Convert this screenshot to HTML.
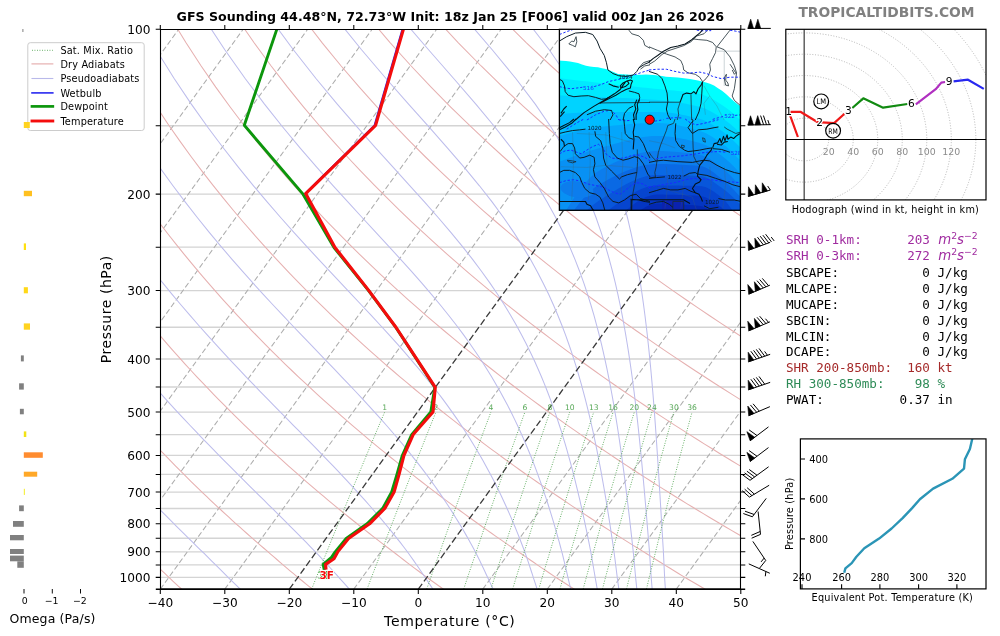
<!DOCTYPE html>
<html lang="en"><head><meta charset="utf-8"><title>GFS Sounding 44.48N 72.73W</title>
<style>html,body{margin:0;padding:0;background:#fff}svg{display:block;will-change:transform}text{white-space:pre}</style></head>
<body><svg width="1000" height="636" viewBox="0 0 1000 636">
<rect width="1000" height="636" fill="#fff"/>
<defs><clipPath id="cm"><rect x="160.3" y="29.3" width="580.2" height="559.85"/></clipPath></defs>
<g clip-path="url(#cm)" fill="none">
<path d="M160.3 29.3 H740.5M160.3 125.73 H740.5M160.3 194.14 H740.5M160.3 247.21 H740.5M160.3 290.57 H740.5M160.3 327.23 H740.5M160.3 358.99 H740.5M160.3 387 H740.5M160.3 412.06 H740.5M160.3 434.72 H740.5M160.3 455.42 H740.5M160.3 474.45 H740.5M160.3 492.08 H740.5M160.3 508.48 H740.5M160.3 523.83 H740.5M160.3 538.25 H740.5M160.3 551.84 H740.5M160.3 564.93 H740.5M160.3 577.35 H740.5" stroke="#d4d4d4" stroke-width="1.3"/>
<path d="M-549.2 589.15 L-143.87 29.3M-484.7 589.15 L-79.37 29.3M-420.2 589.15 L-14.87 29.3M-355.7 589.15 L49.63 29.3M-291.2 589.15 L114.13 29.3M-226.7 589.15 L178.63 29.3M-162.2 589.15 L243.13 29.3M-97.7 589.15 L307.63 29.3M-33.2 589.15 L372.13 29.3M31.3 589.15 L436.63 29.3M95.8 589.15 L501.13 29.3M160.3 589.15 L565.63 29.3M224.8 589.15 L630.13 29.3M353.8 589.15 L759.13 29.3M482.8 589.15 L888.13 29.3M547.3 589.15 L952.63 29.3M611.8 589.15 L1017.13 29.3M676.3 589.15 L1081.63 29.3M740.8 589.15 L1146.13 29.3" stroke="#adadad" stroke-width="1.05" stroke-dasharray="5.4 2.7"/>
<path d="M-78.36 591.21 L-80.29 588.76 L-82.23 586.29 L-84.18 583.8 L-86.14 581.27 L-88.1 578.72 L-90.06 576.12 L-92.01 573.47 L-93.98 570.78 L-95.95 568.07 L-97.93 565.33 L-99.92 562.55 L-101.92 559.75 L-103.93 556.91 L-105.96 554.04 L-108 551.14 L-110.08 548.25 L-112.17 545.33 L-114.27 542.36 L-116.38 539.36 L-118.5 536.32 L-120.64 533.25 L-122.78 530.13 L-124.94 526.97 L-127.11 523.77 L-129.3 520.52 L-131.49 517.23 L-133.7 513.89 L-135.92 510.51 L-138.15 507.07 L-140.39 503.59 L-142.65 500.05 L-144.93 496.46 L-147.21 492.82 L-149.51 489.12 L-151.82 485.36 L-154.15 481.54 L-156.49 477.66 L-158.85 473.71 L-161.21 469.7 L-163.6 465.62 L-166 461.46 L-168.41 457.23 L-170.84 452.93 L-173.29 448.55 L-175.75 444.08 L-178.23 439.53 L-180.72 434.89 L-183.23 430.16 L-185.76 425.33 L-188.3 420.41 L-190.86 415.37 L-193.43 410.23 L-196.03 404.98 L-198.64 399.6 L-201.26 394.11 L-203.91 388.48 L-206.57 382.72 L-209.25 376.81 L-211.95 370.75 L-214.66 364.53 L-217.39 358.15 L-220.14 351.59 L-222.9 344.85 L-225.69 337.91 L-228.48 330.76 L-231.3 323.38 L-234.12 315.78 L-236.97 307.92 L-239.82 299.79 L-242.69 291.37 L-245.57 282.65 L-248.45 273.59 L-251.35 264.17 L-254.24 254.37 L-257.14 244.15 L-260.03 233.46 L-262.92 222.27 L-265.79 210.53 L-268.64 198.18 L-271.45 185.16 L-274.23 171.38 L-276.94 156.75 L-279.58 141.16 L-282.12 124.48 L-284.53 106.54 L-286.77 87.13 L-288.79 66 L-290.5 42.8 L-291.8 17.1M52.8 591.21 L50.49 588.76 L48.16 586.29 L45.82 583.8 L43.47 581.27 L41.11 578.72 L38.75 576.12 L36.4 573.47 L34.03 570.78 L31.65 568.07 L29.26 565.33 L26.86 562.55 L24.44 559.75 L22 556.91 L19.56 554.04 L17.09 551.14 L14.58 548.25 L12.05 545.33 L9.51 542.36 L6.95 539.36 L4.38 536.32 L1.8 533.25 L-0.81 530.13 L-3.42 526.97 L-6.06 523.77 L-8.71 520.52 L-11.38 517.23 L-14.07 513.89 L-16.77 510.51 L-19.49 507.07 L-22.23 503.59 L-24.99 500.05 L-27.76 496.46 L-30.56 492.82 L-33.37 489.12 L-36.21 485.36 L-39.06 481.54 L-41.94 477.66 L-44.83 473.71 L-47.75 469.7 L-50.68 465.62 L-53.64 461.46 L-56.63 457.23 L-59.63 452.93 L-62.66 448.55 L-65.71 444.08 L-68.78 439.53 L-71.88 434.89 L-75.01 430.16 L-78.15 425.33 L-81.33 420.41 L-84.53 415.37 L-87.76 410.23 L-91.01 404.98 L-94.3 399.6 L-97.61 394.11 L-100.95 388.48 L-104.32 382.72 L-107.72 376.81 L-111.15 370.75 L-114.61 364.53 L-118.1 358.15 L-121.63 351.59 L-125.18 344.85 L-128.77 337.91 L-132.4 330.76 L-136.05 323.38 L-139.75 315.78 L-143.47 307.92 L-147.23 299.79 L-151.03 291.37 L-154.86 282.65 L-158.72 273.59 L-162.62 264.17 L-166.55 254.37 L-170.51 244.15 L-174.51 233.46 L-178.53 222.27 L-182.58 210.53 L-186.65 198.18 L-190.73 185.16 L-194.83 171.38 L-198.92 156.75 L-203 141.16 L-207.06 124.48 L-211.06 106.54 L-214.99 87.13 L-218.79 66 L-222.42 42.8 L-225.79 17.1M183.96 591.21 L181.26 588.76 L178.55 586.29 L175.82 583.8 L173.08 581.27 L170.32 578.72 L167.56 576.12 L164.81 573.47 L162.04 570.78 L159.26 568.07 L156.45 565.33 L153.63 562.55 L150.8 559.75 L147.94 556.91 L145.07 554.04 L142.17 551.14 L139.23 548.25 L136.27 545.33 L133.29 542.36 L130.29 539.36 L127.27 536.32 L124.23 533.25 L121.17 530.13 L118.09 526.97 L114.99 523.77 L111.87 520.52 L108.73 517.23 L105.56 513.89 L102.38 510.51 L99.17 507.07 L95.93 503.59 L92.68 500.05 L89.4 496.46 L86.09 492.82 L82.76 489.12 L79.41 485.36 L76.03 481.54 L72.62 477.66 L69.18 473.71 L65.72 469.7 L62.23 465.62 L58.71 461.46 L55.16 457.23 L51.58 452.93 L47.98 448.55 L44.34 444.08 L40.66 439.53 L36.96 434.89 L33.22 430.16 L29.45 425.33 L25.64 420.41 L21.8 415.37 L17.92 410.23 L14 404.98 L10.04 399.6 L6.05 394.11 L2.01 388.48 L-2.07 382.72 L-6.19 376.81 L-10.35 370.75 L-14.56 364.53 L-18.81 358.15 L-23.11 351.59 L-27.46 344.85 L-31.86 337.91 L-36.31 330.76 L-40.81 323.38 L-45.37 315.78 L-49.98 307.92 L-54.64 299.79 L-59.36 291.37 L-64.15 282.65 L-68.99 273.59 L-73.89 264.17 L-78.86 254.37 L-83.89 244.15 L-88.98 233.46 L-94.14 222.27 L-99.37 210.53 L-104.66 198.18 L-110.01 185.16 L-115.42 171.38 L-120.9 156.75 L-126.42 141.16 L-131.99 124.48 L-137.59 106.54 L-143.2 87.13 L-148.8 66 L-154.34 42.8 L-159.77 17.1M315.11 591.21 L312.03 588.76 L308.94 586.29 L305.82 583.8 L302.69 581.27 L299.53 578.72 L296.38 576.12 L293.22 573.47 L290.05 570.78 L286.86 568.07 L283.64 565.33 L280.41 562.55 L277.16 559.75 L273.88 556.91 L270.58 554.04 L267.26 551.14 L263.88 548.25 L260.48 545.33 L257.06 542.36 L253.62 539.36 L250.16 536.32 L246.66 533.25 L243.15 530.13 L239.61 526.97 L236.05 523.77 L232.45 520.52 L228.84 517.23 L225.19 513.89 L221.52 510.51 L217.83 507.07 L214.1 503.59 L210.34 500.05 L206.56 496.46 L202.74 492.82 L198.9 489.12 L195.02 485.36 L191.11 481.54 L187.17 477.66 L183.2 473.71 L179.19 469.7 L175.15 465.62 L171.07 461.46 L166.95 457.23 L162.8 452.93 L158.61 448.55 L154.38 444.08 L150.11 439.53 L145.8 434.89 L141.44 430.16 L137.05 425.33 L132.61 420.41 L128.12 415.37 L123.59 410.23 L119.01 404.98 L114.38 399.6 L109.7 394.11 L104.97 388.48 L100.18 382.72 L95.34 376.81 L90.45 370.75 L85.49 364.53 L80.48 358.15 L75.4 351.59 L70.26 344.85 L65.05 337.91 L59.78 330.76 L54.43 323.38 L49.01 315.78 L43.52 307.92 L37.95 299.79 L32.3 291.37 L26.57 282.65 L20.75 273.59 L14.84 264.17 L8.83 254.37 L2.74 244.15 L-3.46 233.46 L-9.75 222.27 L-16.16 210.53 L-22.67 198.18 L-29.29 185.16 L-36.02 171.38 L-42.87 156.75 L-49.84 141.16 L-56.92 124.48 L-64.11 106.54 L-71.41 87.13 L-78.8 66 L-86.26 42.8 L-93.76 17.1M446.27 591.21 L442.81 588.76 L439.32 586.29 L435.82 583.8 L432.29 581.27 L428.75 578.72 L425.19 576.12 L421.64 573.47 L418.06 570.78 L414.46 568.07 L410.83 565.33 L407.19 562.55 L403.51 559.75 L399.82 556.91 L396.1 554.04 L392.34 551.14 L388.53 548.25 L384.7 545.33 L380.84 542.36 L376.96 539.36 L373.04 536.32 L369.1 533.25 L365.13 530.13 L361.13 526.97 L357.1 523.77 L353.04 520.52 L348.95 517.23 L344.83 513.89 L340.67 510.51 L336.48 507.07 L332.26 503.59 L328.01 500.05 L323.72 496.46 L319.4 492.82 L315.04 489.12 L310.64 485.36 L306.2 481.54 L301.73 477.66 L297.21 473.71 L292.66 469.7 L288.06 465.62 L283.42 461.46 L278.74 457.23 L274.01 452.93 L269.24 448.55 L264.42 444.08 L259.55 439.53 L254.64 434.89 L249.67 430.16 L244.65 425.33 L239.58 420.41 L234.45 415.37 L229.26 410.23 L224.02 404.98 L218.72 399.6 L213.35 394.11 L207.93 388.48 L202.43 382.72 L196.87 376.81 L191.24 370.75 L185.54 364.53 L179.77 358.15 L173.91 351.59 L167.98 344.85 L161.96 337.91 L155.86 330.76 L149.67 323.38 L143.39 315.78 L137.02 307.92 L130.54 299.79 L123.96 291.37 L117.28 282.65 L110.48 273.59 L103.56 264.17 L96.53 254.37 L89.36 244.15 L82.07 233.46 L74.63 222.27 L67.06 210.53 L59.32 198.18 L51.44 185.16 L43.38 171.38 L35.15 156.75 L26.74 141.16 L18.15 124.48 L9.36 106.54 L0.37 87.13 L-8.81 66 L-18.18 42.8 L-27.74 17.1M577.43 591.21 L573.58 588.76 L569.71 586.29 L565.82 583.8 L561.9 581.27 L557.96 578.72 L554.01 576.12 L550.05 573.47 L546.07 570.78 L542.06 568.07 L538.02 565.33 L533.96 562.55 L529.87 559.75 L525.76 556.91 L521.61 554.04 L517.43 551.14 L513.19 548.25 L508.92 545.33 L504.62 542.36 L500.29 539.36 L495.93 536.32 L491.53 533.25 L487.11 530.13 L482.65 526.97 L478.15 523.77 L473.62 520.52 L469.06 517.23 L464.46 513.89 L459.82 510.51 L455.14 507.07 L450.43 503.59 L445.68 500.05 L440.88 496.46 L436.05 492.82 L431.17 489.12 L426.25 485.36 L421.29 481.54 L416.28 477.66 L411.23 473.71 L406.13 469.7 L400.98 465.62 L395.78 461.46 L390.53 457.23 L385.23 452.93 L379.87 448.55 L374.46 444.08 L369 439.53 L363.48 434.89 L357.89 430.16 L352.25 425.33 L346.54 420.41 L340.77 415.37 L334.94 410.23 L329.03 404.98 L323.06 399.6 L317.01 394.11 L310.89 388.48 L304.69 382.72 L298.4 376.81 L292.04 370.75 L285.59 364.53 L279.05 358.15 L272.42 351.59 L265.7 344.85 L258.88 337.91 L251.95 330.76 L244.92 323.38 L237.77 315.78 L230.51 307.92 L223.13 299.79 L215.63 291.37 L207.99 282.65 L200.21 273.59 L192.29 264.17 L184.22 254.37 L175.99 244.15 L167.59 233.46 L159.02 222.27 L150.27 210.53 L141.32 198.18 L132.16 185.16 L122.78 171.38 L113.18 156.75 L103.33 141.16 L93.22 124.48 L82.83 106.54 L72.16 87.13 L61.19 66 L49.89 42.8 L38.28 17.1M708.58 591.21 L704.35 588.76 L700.1 586.29 L695.82 583.8 L691.51 581.27 L687.17 578.72 L682.82 576.12 L678.46 573.47 L674.08 570.78 L669.66 568.07 L665.21 565.33 L660.74 562.55 L656.23 559.75 L651.69 556.91 L647.12 554.04 L642.51 551.14 L637.84 548.25 L633.14 545.33 L628.4 542.36 L623.62 539.36 L618.81 536.32 L613.97 533.25 L609.08 530.13 L604.16 526.97 L599.2 523.77 L594.2 520.52 L589.17 517.23 L584.09 513.89 L578.97 510.51 L573.8 507.07 L568.59 503.59 L563.34 500.05 L558.04 496.46 L552.7 492.82 L547.31 489.12 L541.87 485.36 L536.38 481.54 L530.83 477.66 L525.24 473.71 L519.59 469.7 L513.89 465.62 L508.13 461.46 L502.32 457.23 L496.44 452.93 L490.51 448.55 L484.51 444.08 L478.44 439.53 L472.31 434.89 L466.12 430.16 L459.85 425.33 L453.51 420.41 L447.1 415.37 L440.61 410.23 L434.04 404.98 L427.4 399.6 L420.66 394.11 L413.84 388.48 L406.94 382.72 L399.94 376.81 L392.84 370.75 L385.64 364.53 L378.34 358.15 L370.94 351.59 L363.42 344.85 L355.79 337.91 L348.04 330.76 L340.16 323.38 L332.15 315.78 L324.01 307.92 L315.72 299.79 L307.29 291.37 L298.7 282.65 L289.94 273.59 L281.02 264.17 L271.91 254.37 L262.62 244.15 L253.12 233.46 L243.41 222.27 L233.48 210.53 L223.31 198.18 L212.88 185.16 L202.18 171.38 L191.2 156.75 L179.91 141.16 L168.28 124.48 L156.31 106.54 L143.95 87.13 L131.18 66 L117.97 42.8 L104.29 17.1M839.74 591.21 L835.13 588.76 L830.49 586.29 L825.81 583.8 L821.11 581.27 L816.38 578.72 L811.63 576.12 L806.88 573.47 L802.08 570.78 L797.26 568.07 L792.4 565.33 L787.51 562.55 L782.59 559.75 L777.63 556.91 L772.64 554.04 L767.6 551.14 L762.49 548.25 L757.35 545.33 L752.17 542.36 L746.96 539.36 L741.7 536.32 L736.4 533.25 L731.06 530.13 L725.68 526.97 L720.26 523.77 L714.79 520.52 L709.28 517.23 L703.72 513.89 L698.11 510.51 L692.46 507.07 L686.76 503.59 L681.01 500.05 L675.21 496.46 L669.35 492.82 L663.44 489.12 L657.48 485.36 L651.46 481.54 L645.39 477.66 L639.26 473.71 L633.06 469.7 L626.81 465.62 L620.49 461.46 L614.11 457.23 L607.66 452.93 L601.14 448.55 L594.55 444.08 L587.89 439.53 L581.15 434.89 L574.34 430.16 L567.45 425.33 L560.48 420.41 L553.43 415.37 L546.29 410.23 L539.06 404.98 L531.73 399.6 L524.32 394.11 L516.8 388.48 L509.19 382.72 L501.47 376.81 L493.64 370.75 L485.69 364.53 L477.63 358.15 L469.45 351.59 L461.14 344.85 L452.7 337.91 L444.12 330.76 L435.4 323.38 L426.53 315.78 L417.5 307.92 L408.31 299.79 L398.95 291.37 L389.41 282.65 L379.68 273.59 L369.75 264.17 L359.61 254.37 L349.24 244.15 L338.65 233.46 L327.8 222.27 L316.69 210.53 L305.3 198.18 L293.6 185.16 L281.59 171.38 L269.22 156.75 L256.49 141.16 L243.35 124.48 L229.78 106.54 L215.74 87.13 L201.17 66 L186.05 42.8 L170.31 17.1M970.9 591.21 L965.9 588.76 L960.87 586.29 L955.81 583.8 L950.72 581.27 L945.59 578.72 L940.45 576.12 L935.29 573.47 L930.09 570.78 L924.86 568.07 L919.59 565.33 L914.29 562.55 L908.95 559.75 L903.57 556.91 L898.15 554.04 L892.68 551.14 L887.15 548.25 L881.57 545.33 L875.95 542.36 L870.29 539.36 L864.58 536.32 L858.83 533.25 L853.04 530.13 L847.2 526.97 L841.31 523.77 L835.37 520.52 L829.38 517.23 L823.35 513.89 L817.26 510.51 L811.12 507.07 L804.92 503.59 L798.67 500.05 L792.37 496.46 L786 492.82 L779.58 489.12 L773.1 485.36 L766.55 481.54 L759.94 477.66 L753.27 473.71 L746.53 469.7 L739.72 465.62 L732.84 461.46 L725.89 457.23 L718.87 452.93 L711.77 448.55 L704.59 444.08 L697.33 439.53 L689.99 434.89 L682.57 430.16 L675.05 425.33 L667.45 420.41 L659.75 415.37 L651.96 410.23 L644.07 404.98 L636.07 399.6 L627.97 394.11 L619.76 388.48 L611.44 382.72 L603 376.81 L594.43 370.75 L585.74 364.53 L576.92 358.15 L567.96 351.59 L558.86 344.85 L549.61 337.91 L540.21 330.76 L530.64 323.38 L520.91 315.78 L511 307.92 L500.9 299.79 L490.61 291.37 L480.12 282.65 L469.41 273.59 L458.47 264.17 L447.3 254.37 L435.87 244.15 L424.17 233.46 L412.19 222.27 L399.9 210.53 L387.29 198.18 L374.32 185.16 L360.99 171.38 L347.25 156.75 L333.07 141.16 L318.42 124.48 L303.25 106.54 L287.52 87.13 L271.17 66 L254.13 42.8 L236.32 17.1M1102.06 591.21 L1096.68 588.76 L1091.26 586.29 L1085.81 583.8 L1080.33 581.27 L1074.81 578.72 L1069.26 576.12 L1063.7 573.47 L1058.1 570.78 L1052.46 568.07 L1046.79 565.33 L1041.07 562.55 L1035.31 559.75 L1029.51 556.91 L1023.66 554.04 L1017.77 551.14 L1011.8 548.25 L1005.79 545.33 L999.73 542.36 L993.62 539.36 L987.47 536.32 L981.27 533.25 L975.02 530.13 L968.72 526.97 L962.36 523.77 L955.95 520.52 L949.49 517.23 L942.98 513.89 L936.41 510.51 L929.78 507.07 L923.09 503.59 L916.34 500.05 L909.53 496.46 L902.65 492.82 L895.72 489.12 L888.71 485.36 L881.64 481.54 L874.5 477.66 L867.28 473.71 L860 469.7 L852.64 465.62 L845.2 461.46 L837.68 457.23 L830.08 452.93 L822.4 448.55 L814.63 444.08 L806.78 439.53 L798.83 434.89 L790.79 430.16 L782.65 425.33 L774.42 420.41 L766.08 415.37 L757.63 410.23 L749.08 404.98 L740.41 399.6 L731.63 394.11 L722.72 388.48 L713.69 382.72 L704.53 376.81 L695.23 370.75 L685.79 364.53 L676.21 358.15 L666.48 351.59 L656.58 344.85 L646.53 337.91 L636.3 330.76 L625.89 323.38 L615.29 315.78 L604.5 307.92 L593.5 299.79 L582.28 291.37 L570.83 282.65 L559.14 273.59 L547.2 264.17 L534.99 254.37 L522.5 244.15 L509.7 233.46 L496.58 222.27 L483.11 210.53 L469.28 198.18 L455.05 185.16 L440.39 171.38 L425.27 156.75 L409.65 141.16 L393.49 124.48 L376.73 106.54 L359.31 87.13 L341.16 66 L322.21 42.8 L302.34 17.1M1233.21 591.21 L1227.45 588.76 L1221.65 586.29 L1215.81 583.8 L1209.93 581.27 L1204.02 578.72 L1198.08 576.12 L1192.11 573.47 L1186.11 570.78 L1180.06 568.07 L1173.98 565.33 L1167.84 562.55 L1161.67 559.75 L1155.44 556.91 L1149.17 554.04 L1142.85 551.14 L1136.45 548.25 L1130 545.33 L1123.5 542.36 L1116.96 539.36 L1110.36 536.32 L1103.7 533.25 L1096.99 530.13 L1090.23 526.97 L1083.41 523.77 L1076.54 520.52 L1069.6 517.23 L1062.61 513.89 L1055.55 510.51 L1048.43 507.07 L1041.25 503.59 L1034 500.05 L1026.69 496.46 L1019.31 492.82 L1011.85 489.12 L1004.33 485.36 L996.73 481.54 L989.05 477.66 L981.3 473.71 L973.47 469.7 L965.55 465.62 L957.55 461.46 L949.47 457.23 L941.3 452.93 L933.03 448.55 L924.68 444.08 L916.22 439.53 L907.67 434.89 L899.02 430.16 L890.26 425.33 L881.39 420.41 L872.41 415.37 L863.31 410.23 L854.09 404.98 L844.75 399.6 L835.28 394.11 L825.68 388.48 L815.94 382.72 L806.06 376.81 L796.03 370.75 L785.84 364.53 L775.5 358.15 L764.99 351.59 L754.3 344.85 L743.44 337.91 L732.38 330.76 L721.13 323.38 L709.67 315.78 L697.99 307.92 L686.09 299.79 L673.94 291.37 L661.54 282.65 L648.88 273.59 L635.93 264.17 L622.68 254.37 L609.12 244.15 L595.22 233.46 L580.97 222.27 L566.32 210.53 L551.27 198.18 L535.77 185.16 L519.79 171.38 L503.3 156.75 L486.23 141.16 L468.56 124.48 L450.2 106.54 L431.1 87.13 L411.16 66 L390.28 42.8 L368.36 17.1M1364.37 591.21 L1358.22 588.76 L1352.04 586.29 L1345.81 583.8 L1339.54 581.27 L1333.23 578.72 L1326.89 576.12 L1320.53 573.47 L1314.12 570.78 L1307.67 568.07 L1301.17 565.33 L1294.62 562.55 L1288.02 559.75 L1281.38 556.91 L1274.69 554.04 L1267.93 551.14 L1261.1 548.25 L1254.22 545.33 L1247.28 542.36 L1240.29 539.36 L1233.24 536.32 L1226.14 533.25 L1218.97 530.13 L1211.75 526.97 L1204.47 523.77 L1197.12 520.52 L1189.71 517.23 L1182.24 513.89 L1174.7 510.51 L1167.09 507.07 L1159.42 503.59 L1151.67 500.05 L1143.85 496.46 L1135.96 492.82 L1127.99 489.12 L1119.94 485.36 L1111.81 481.54 L1103.61 477.66 L1095.31 473.71 L1086.93 469.7 L1078.47 465.62 L1069.91 461.46 L1061.26 457.23 L1052.51 452.93 L1043.67 448.55 L1034.72 444.08 L1025.67 439.53 L1016.51 434.89 L1007.24 430.16 L997.86 425.33 L988.35 420.41 L978.73 415.37 L968.98 410.23 L959.1 404.98 L949.09 399.6 L938.94 394.11 L928.64 388.48 L918.19 382.72 L907.59 376.81 L896.83 370.75 L885.89 364.53 L874.79 358.15 L863.5 351.59 L852.02 344.85 L840.35 337.91 L828.47 330.76 L816.37 323.38 L804.05 315.78 L791.49 307.92 L778.68 299.79 L765.6 291.37 L752.25 282.65 L738.61 273.59 L724.66 264.17 L710.38 254.37 L695.75 244.15 L680.75 233.46 L665.35 222.27 L649.53 210.53 L633.26 198.18 L616.49 185.16 L599.19 171.38 L581.32 156.75 L562.82 141.16 L543.63 124.48 L523.67 106.54 L502.88 87.13 L481.15 66 L458.36 42.8 L434.37 17.1M1495.53 591.21 L1489 588.76 L1482.43 586.29 L1475.81 583.8 L1469.15 581.27 L1462.44 578.72 L1455.7 576.12 L1448.94 573.47 L1442.13 570.78 L1435.27 568.07 L1428.36 565.33 L1421.4 562.55 L1414.38 559.75 L1407.32 556.91 L1400.2 554.04 L1393.02 551.14 L1385.76 548.25 L1378.44 545.33 L1371.06 542.36 L1363.62 539.36 L1356.13 536.32 L1348.57 533.25 L1340.95 530.13 L1333.27 526.97 L1325.52 523.77 L1317.7 520.52 L1309.82 517.23 L1301.87 513.89 L1293.85 510.51 L1285.75 507.07 L1277.58 503.59 L1269.34 500.05 L1261.01 496.46 L1252.61 492.82 L1244.12 489.12 L1235.56 485.36 L1226.9 481.54 L1218.16 477.66 L1209.33 473.71 L1200.4 469.7 L1191.38 465.62 L1182.27 461.46 L1173.05 457.23 L1163.73 452.93 L1154.3 448.55 L1144.76 444.08 L1135.11 439.53 L1125.35 434.89 L1115.47 430.16 L1105.46 425.33 L1095.32 420.41 L1085.06 415.37 L1074.66 410.23 L1064.11 404.98 L1053.43 399.6 L1042.59 394.11 L1031.6 388.48 L1020.44 382.72 L1009.12 376.81 L997.62 370.75 L985.94 364.53 L974.08 358.15 L962.01 351.59 L949.75 344.85 L937.26 337.91 L924.56 330.76 L911.62 323.38 L898.43 315.78 L884.98 307.92 L871.27 299.79 L857.27 291.37 L842.96 282.65 L828.34 273.59 L813.39 264.17 L798.07 254.37 L782.38 244.15 L766.28 233.46 L749.74 222.27 L732.74 210.53 L715.25 198.18 L697.21 185.16 L678.59 171.38 L659.34 156.75 L639.4 141.16 L618.69 124.48 L597.15 106.54 L574.67 87.13 L551.15 66 L526.44 42.8 L500.39 17.1M1626.68 591.21 L1619.77 588.76 L1612.81 586.29 L1605.81 583.8 L1598.75 581.27 L1591.65 578.72 L1584.52 576.12 L1577.35 573.47 L1570.14 570.78 L1562.87 568.07 L1555.55 565.33 L1548.17 562.55 L1540.74 559.75 L1533.26 556.91 L1525.71 554.04 L1518.1 551.14 L1510.41 548.25 L1502.65 545.33 L1494.84 542.36 L1486.96 539.36 L1479.01 536.32 L1471 533.25 L1462.93 530.13 L1454.79 526.97 L1446.57 523.77 L1438.29 520.52 L1429.93 517.23 L1421.5 513.89 L1412.99 510.51 L1404.41 507.07 L1395.75 503.59 L1387 500.05 L1378.17 496.46 L1369.26 492.82 L1360.26 489.12 L1351.17 485.36 L1341.99 481.54 L1332.71 477.66 L1323.34 473.71 L1313.87 469.7 L1304.3 465.62 L1294.62 461.46 L1284.84 457.23 L1274.94 452.93 L1264.93 448.55 L1254.81 444.08 L1244.56 439.53 L1234.19 434.89 L1223.69 430.16 L1213.06 425.33 L1202.29 420.41 L1191.38 415.37 L1180.33 410.23 L1169.13 404.98 L1157.77 399.6 L1146.24 394.11 L1134.56 388.48 L1122.69 382.72 L1110.65 376.81 L1098.42 370.75 L1085.99 364.53 L1073.37 358.15 L1060.53 351.59 L1047.47 344.85 L1034.18 337.91 L1020.64 330.76 L1006.86 323.38 L992.81 315.78 L978.48 307.92 L963.86 299.79 L948.93 291.37 L933.68 282.65 L918.08 273.59 L902.11 264.17 L885.76 254.37 L869 244.15 L851.8 233.46 L834.13 222.27 L815.96 210.53 L797.24 198.18 L777.93 185.16 L758 171.38 L737.37 156.75 L715.98 141.16 L693.76 124.48 L670.62 106.54 L646.46 87.13 L621.14 66 L594.52 42.8 L566.41 17.1M1757.84 591.21 L1750.55 588.76 L1743.2 586.29 L1735.81 583.8 L1728.36 581.27 L1720.87 578.72 L1713.33 576.12 L1705.77 573.47 L1698.15 570.78 L1690.47 568.07 L1682.74 565.33 L1674.95 562.55 L1667.1 559.75 L1659.19 556.91 L1651.23 554.04 L1643.19 551.14 L1635.06 548.25 L1626.87 545.33 L1618.61 542.36 L1610.29 539.36 L1601.9 536.32 L1593.44 533.25 L1584.91 530.13 L1576.3 526.97 L1567.62 523.77 L1558.87 520.52 L1550.04 517.23 L1541.13 513.89 L1532.14 510.51 L1523.07 507.07 L1513.91 503.59 L1504.67 500.05 L1495.34 496.46 L1485.91 492.82 L1476.4 489.12 L1466.79 485.36 L1457.08 481.54 L1447.27 477.66 L1437.36 473.71 L1427.34 469.7 L1417.21 465.62 L1406.98 461.46 L1396.62 457.23 L1386.15 452.93 L1375.56 448.55 L1364.85 444.08 L1354 439.53 L1343.03 434.89 L1331.91 430.16 L1320.66 425.33 L1309.26 420.41 L1297.71 415.37 L1286 410.23 L1274.14 404.98 L1262.1 399.6 L1249.9 394.11 L1237.51 388.48 L1224.94 382.72 L1212.18 376.81 L1199.22 370.75 L1186.04 364.53 L1172.66 358.15 L1159.04 351.59 L1145.19 344.85 L1131.09 337.91 L1116.73 330.76 L1102.1 323.38 L1087.19 315.78 L1071.98 307.92 L1056.45 299.79 L1040.59 291.37 L1024.39 282.65 L1007.81 273.59 L990.84 264.17 L973.46 254.37 L955.63 244.15 L937.33 233.46 L918.52 222.27 L899.17 210.53 L879.23 198.18 L858.66 185.16 L837.4 171.38 L815.39 156.75 L792.56 141.16 L768.83 124.48 L744.1 106.54 L718.24 87.13 L691.13 66 L662.6 42.8 L632.42 17.1M1889 591.21 L1881.32 588.76 L1873.59 586.29 L1865.81 583.8 L1857.97 581.27 L1850.08 578.72 L1842.15 576.12 L1834.18 573.47 L1826.15 570.78 L1818.07 568.07 L1809.93 565.33 L1801.72 562.55 L1793.46 559.75 L1785.13 556.91 L1776.74 554.04 L1768.27 551.14 L1759.71 548.25 L1751.09 545.33 L1742.39 542.36 L1733.62 539.36 L1724.78 536.32 L1715.87 533.25 L1706.88 530.13 L1697.82 526.97 L1688.68 523.77 L1679.45 520.52 L1670.15 517.23 L1660.76 513.89 L1651.29 510.51 L1641.73 507.07 L1632.08 503.59 L1622.33 500.05 L1612.5 496.46 L1602.56 492.82 L1592.53 489.12 L1582.4 485.36 L1572.16 481.54 L1561.82 477.66 L1551.37 473.71 L1540.81 469.7 L1530.13 465.62 L1519.33 461.46 L1508.41 457.23 L1497.37 452.93 L1486.2 448.55 L1474.89 444.08 L1463.45 439.53 L1451.87 434.89 L1440.14 430.16 L1428.26 425.33 L1416.23 420.41 L1404.04 415.37 L1391.68 410.23 L1379.15 404.98 L1366.44 399.6 L1353.55 394.11 L1340.47 388.48 L1327.19 382.72 L1313.71 376.81 L1300.01 370.75 L1286.1 364.53 L1271.94 358.15 L1257.55 351.59 L1242.91 344.85 L1228 337.91 L1212.82 330.76 L1197.34 323.38 L1181.57 315.78 L1165.47 307.92 L1149.04 299.79 L1132.26 291.37 L1115.1 282.65 L1097.54 273.59 L1079.57 264.17 L1061.15 254.37 L1042.25 244.15 L1022.85 233.46 L1002.91 222.27 L982.38 210.53 L961.22 198.18 L939.38 185.16 L916.8 171.38 L893.41 156.75 L869.14 141.16 L843.9 124.48 L817.57 106.54 L790.03 87.13 L761.13 66 L730.68 42.8 L698.44 17.1M2020.16 591.21 L2012.09 588.76 L2003.98 586.29 L1995.8 583.8 L1987.58 581.27 L1979.29 578.72 L1970.96 576.12 L1962.59 573.47 L1954.16 570.78 L1945.67 568.07 L1937.12 565.33 L1928.5 562.55 L1919.82 559.75 L1911.07 556.91 L1902.25 554.04 L1893.36 551.14 L1884.37 548.25 L1875.3 545.33 L1866.17 542.36 L1856.96 539.36 L1847.67 536.32 L1838.31 533.25 L1828.86 530.13 L1819.34 526.97 L1809.73 523.77 L1800.04 520.52 L1790.26 517.23 L1780.39 513.89 L1770.44 510.51 L1760.39 507.07 L1750.24 503.59 L1740 500.05 L1729.66 496.46 L1719.22 492.82 L1708.67 489.12 L1698.02 485.36 L1687.25 481.54 L1676.38 477.66 L1665.39 473.71 L1654.28 469.7 L1643.04 465.62 L1631.69 461.46 L1620.2 457.23 L1608.58 452.93 L1596.83 448.55 L1584.93 444.08 L1572.89 439.53 L1560.71 434.89 L1548.36 430.16 L1535.86 425.33 L1523.2 420.41 L1510.36 415.37 L1497.35 410.23 L1484.16 404.98 L1470.78 399.6 L1457.21 394.11 L1443.43 388.48 L1429.45 382.72 L1415.24 376.81 L1400.81 370.75 L1386.15 364.53 L1371.23 358.15 L1356.06 351.59 L1340.63 344.85 L1324.91 337.91 L1308.9 330.76 L1292.59 323.38 L1275.95 315.78 L1258.97 307.92 L1241.63 299.79 L1223.92 291.37 L1205.81 282.65 L1187.28 273.59 L1168.3 264.17 L1148.84 254.37 L1128.88 244.15 L1108.38 233.46 L1087.3 222.27 L1065.59 210.53 L1043.21 198.18 L1020.1 185.16 L996.2 171.38 L971.44 156.75 L945.73 141.16 L918.97 124.48 L891.04 106.54 L861.82 87.13 L831.12 66 L798.75 42.8 L764.45 17.1" stroke="#e6b0b0" stroke-width="1.05"/>
<path d="M242.5 591.21 L239.22 588.05 L235.89 584.85 L232.52 581.6 L229.1 578.31 L225.66 574.93 L222.2 571.49 L218.68 567.99 L215.12 564.45 L211.51 560.85 L207.85 557.2 L204.14 553.49 L200.36 549.77 L196.51 546.01 L192.61 542.19 L188.66 538.31 L184.66 534.37 L180.61 530.36 L176.51 526.28 L172.36 522.12 L168.15 517.9 L163.9 513.6 L159.6 509.22 L155.24 504.76 L150.83 500.21 L146.36 495.57 L141.85 490.84 L137.27 486.02 L132.64 481.09 L127.96 476.06 L123.22 470.93 L118.42 465.67 L113.56 460.31 L108.64 454.81 L103.65 449.19 L98.61 443.43 L93.5 437.53 L88.33 431.47 L83.09 425.26 L77.78 418.88 L72.4 412.33 L66.94 405.59 L61.42 398.66 L55.81 391.51 L50.13 384.15 L44.36 376.55 L38.51 368.7 L32.57 360.58 L26.54 352.17 L20.42 343.46 L14.2 334.41 L7.88 325.01 L1.46 315.21 L-5.08 305 L-11.72 294.33 L-18.48 283.16 L-25.37 271.44 L-32.38 259.11 L-39.52 246.11 L-46.8 232.35 L-54.21 217.75 L-61.77 202.19 L-69.47 185.55 L-77.32 167.65 L-85.31 148.29 L-93.44 127.22 L-101.69 104.09 L-110.03 78.48 L-118.42 49.76 L-126.76 17.1M351.28 591.21 L348.48 588.05 L345.6 584.85 L342.67 581.6 L339.67 578.31 L336.63 574.93 L333.53 571.49 L330.37 567.99 L327.14 564.45 L323.83 560.85 L320.44 557.2 L316.99 553.49 L313.42 549.77 L309.76 546.01 L306.02 542.19 L302.2 538.31 L298.29 534.37 L294.31 530.36 L290.23 526.28 L286.08 522.12 L281.83 517.9 L277.5 513.6 L273.08 509.22 L268.57 504.76 L263.98 500.21 L259.29 495.57 L254.51 490.84 L249.64 486.02 L244.68 481.09 L239.63 476.06 L234.48 470.93 L229.25 465.67 L223.91 460.31 L218.49 454.81 L212.96 449.19 L207.35 443.43 L201.63 437.53 L195.82 431.47 L189.91 425.26 L183.9 418.88 L177.79 412.33 L171.58 405.59 L165.26 398.66 L158.84 391.51 L152.3 384.15 L145.66 376.55 L138.9 368.7 L132.02 360.58 L125.03 352.17 L117.9 343.46 L110.65 334.41 L103.27 325.01 L95.74 315.21 L88.07 305 L80.25 294.33 L72.27 283.16 L64.13 271.44 L55.81 259.11 L47.31 246.11 L38.61 232.35 L29.72 217.75 L20.61 202.19 L11.29 185.55 L1.73 167.65 L-8.07 148.29 L-18.13 127.22 L-28.43 104.09 L-38.98 78.48 L-49.77 49.76 L-60.75 17.1M434.24 591.21 L432.19 588.05 L430.09 584.85 L427.93 581.6 L425.72 578.31 L423.47 574.93 L421.17 571.49 L418.81 567.99 L416.37 564.45 L413.87 560.85 L411.29 557.2 L408.63 553.49 L405.86 549.77 L402.99 546.01 L400.04 542.19 L396.99 538.31 L393.84 534.37 L390.6 530.36 L387.26 526.28 L383.81 522.12 L380.25 517.9 L376.58 513.6 L372.79 509.22 L368.88 504.76 L364.85 500.21 L360.68 495.57 L356.39 490.84 L351.96 486.02 L347.39 481.09 L342.67 476.06 L337.81 470.93 L332.8 465.67 L327.64 460.31 L322.33 454.81 L316.85 449.19 L311.22 443.43 L305.43 437.53 L299.47 431.47 L293.35 425.26 L287.07 418.88 L280.62 412.33 L274 405.59 L267.21 398.66 L260.26 391.51 L253.13 384.15 L245.83 376.55 L238.37 368.7 L230.72 360.58 L222.9 352.17 L214.91 343.46 L206.73 334.41 L198.36 325.01 L189.81 315.21 L181.06 305 L172.1 294.33 L162.94 283.16 L153.56 271.44 L143.95 259.11 L134.11 246.11 L124.01 232.35 L113.64 217.75 L102.99 202.19 L92.04 185.55 L80.77 167.65 L69.16 148.29 L57.19 127.22 L44.83 104.09 L32.06 78.48 L18.88 49.76 L5.27 17.1M494 591.21 L492.57 588.05 L491.11 584.85 L489.6 581.6 L488.05 578.31 L486.49 574.93 L484.9 571.49 L483.26 567.99 L481.57 564.45 L479.82 560.85 L478.03 557.2 L476.17 553.49 L474.23 549.77 L472.2 546.01 L470.1 542.19 L467.94 538.31 L465.7 534.37 L463.38 530.36 L460.98 526.28 L458.49 522.12 L455.9 517.9 L453.23 513.6 L450.44 509.22 L447.55 504.76 L444.55 500.21 L441.43 495.57 L438.18 490.84 L434.79 486.02 L431.26 481.09 L427.59 476.06 L423.75 470.93 L419.75 465.67 L415.58 460.31 L411.22 454.81 L406.67 449.19 L401.92 443.43 L396.95 437.53 L391.77 431.47 L386.36 425.26 L380.71 418.88 L374.81 412.33 L368.66 405.59 L362.25 398.66 L355.57 391.51 L348.61 384.15 L341.38 376.55 L333.86 368.7 L326.06 360.58 L317.96 352.17 L309.58 343.46 L300.9 334.41 L291.93 325.01 L282.66 315.21 L273.1 305 L263.24 294.33 L253.08 283.16 L242.61 271.44 L231.82 259.11 L220.72 246.11 L209.27 232.35 L197.48 217.75 L185.32 202.19 L172.77 185.55 L159.8 167.65 L146.39 148.29 L132.5 127.22 L118.09 104.09 L103.11 78.48 L87.52 49.76 L71.28 17.1M537.82 591.21 L536.8 588.05 L535.76 584.85 L534.69 581.6 L533.6 578.31 L532.51 574.93 L531.4 571.49 L530.26 567.99 L529.08 564.45 L527.87 560.85 L526.62 557.2 L525.33 553.49 L523.98 549.77 L522.56 546.01 L521.1 542.19 L519.59 538.31 L518.03 534.37 L516.41 530.36 L514.74 526.28 L513 522.12 L511.21 517.9 L509.34 513.6 L507.4 509.22 L505.38 504.76 L503.29 500.21 L501.1 495.57 L498.82 490.84 L496.44 486.02 L493.96 481.09 L491.36 476.06 L488.63 470.93 L485.78 465.67 L482.79 460.31 L479.64 454.81 L476.34 449.19 L472.86 443.43 L469.19 437.53 L465.32 431.47 L461.24 425.26 L456.92 418.88 L452.36 412.33 L447.52 405.59 L442.4 398.66 L436.98 391.51 L431.22 384.15 L425.12 376.55 L418.65 368.7 L411.79 360.58 L404.52 352.17 L396.83 343.46 L388.69 334.41 L380.09 325.01 L371.01 315.21 L361.46 305 L351.43 294.33 L340.9 283.16 L329.88 271.44 L318.37 259.11 L306.36 246.11 L293.86 232.35 L280.86 217.75 L267.35 202.19 L253.31 185.55 L238.72 167.65 L223.56 148.29 L207.78 127.22 L191.33 104.09 L174.15 78.48 L156.17 49.76 L137.3 17.1M571.22 591.21 L570.47 588.05 L569.71 584.85 L568.93 581.6 L568.14 578.31 L567.35 574.93 L566.56 571.49 L565.75 567.99 L564.91 564.45 L564.06 560.85 L563.17 557.2 L562.26 553.49 L561.3 549.77 L560.29 546.01 L559.25 542.19 L558.17 538.31 L557.07 534.37 L555.92 530.36 L554.74 526.28 L553.52 522.12 L552.25 517.9 L550.94 513.6 L549.58 509.22 L548.17 504.76 L546.7 500.21 L545.18 495.57 L543.59 490.84 L541.93 486.02 L540.2 481.09 L538.39 476.06 L536.5 470.93 L534.52 465.67 L532.44 460.31 L530.25 454.81 L527.96 449.19 L525.53 443.43 L522.97 437.53 L520.27 431.47 L517.41 425.26 L514.37 418.88 L511.14 412.33 L507.7 405.59 L504.04 398.66 L500.12 391.51 L495.93 384.15 L491.44 376.55 L486.61 368.7 L481.41 360.58 L475.82 352.17 L469.78 343.46 L463.26 334.41 L456.21 325.01 L448.59 315.21 L440.35 305 L431.45 294.33 L421.85 283.16 L411.51 271.44 L400.41 259.11 L388.53 246.11 L375.85 232.35 L362.36 217.75 L348.08 202.19 L333 185.55 L317.11 167.65 L300.42 148.29 L282.89 127.22 L264.49 104.09 L245.15 78.48 L224.8 49.76 L203.31 17.1M597.62 591.21 L597.06 588.05 L596.49 584.85 L595.91 581.6 L595.31 578.31 L594.74 574.93 L594.16 571.49 L593.57 567.99 L592.97 564.45 L592.35 560.85 L591.71 557.2 L591.06 553.49 L590.36 549.77 L589.62 546.01 L588.86 542.19 L588.08 538.31 L587.28 534.37 L586.45 530.36 L585.6 526.28 L584.72 522.12 L583.81 517.9 L582.87 513.6 L581.9 509.22 L580.89 504.76 L579.85 500.21 L578.77 495.57 L577.64 490.84 L576.47 486.02 L575.26 481.09 L573.99 476.06 L572.66 470.93 L571.27 465.67 L569.82 460.31 L568.29 454.81 L566.69 449.19 L565.01 443.43 L563.23 437.53 L561.36 431.47 L559.37 425.26 L557.27 418.88 L555.03 412.33 L552.65 405.59 L550.11 398.66 L547.4 391.51 L544.48 384.15 L541.35 376.55 L537.97 368.7 L534.32 360.58 L530.36 352.17 L526.06 343.46 L521.36 334.41 L516.23 325.01 L510.59 315.21 L504.39 305 L497.56 294.33 L490.01 283.16 L481.65 271.44 L472.4 259.11 L462.15 246.11 L450.83 232.35 L438.36 217.75 L424.66 202.19 L409.71 185.55 L393.49 167.65 L376 148.29 L357.25 127.22 L337.25 104.09 L315.97 78.48 L293.35 49.76 L269.29 17.1M619.13 591.21 L618.7 588.05 L618.26 584.85 L617.82 581.6 L617.37 578.31 L616.94 574.93 L616.52 571.49 L616.08 567.99 L615.64 564.45 L615.19 560.85 L614.72 557.2 L614.24 553.49 L613.73 549.77 L613.18 546.01 L612.62 542.19 L612.04 538.31 L611.45 534.37 L610.85 530.36 L610.22 526.28 L609.58 522.12 L608.92 517.9 L608.24 513.6 L607.53 509.22 L606.81 504.76 L606.05 500.21 L605.28 495.57 L604.47 490.84 L603.63 486.02 L602.76 481.09 L601.86 476.06 L600.92 470.93 L599.93 465.67 L598.91 460.31 L597.83 454.81 L596.71 449.19 L595.53 443.43 L594.29 437.53 L592.98 431.47 L591.59 425.26 L590.13 418.88 L588.58 412.33 L586.93 405.59 L585.17 398.66 L583.3 391.51 L581.29 384.15 L579.13 376.55 L576.8 368.7 L574.28 360.58 L571.55 352.17 L568.57 343.46 L565.32 334.41 L561.76 325.01 L557.82 315.21 L553.47 305 L548.63 294.33 L543.22 283.16 L537.15 271.44 L530.3 259.11 L522.55 246.11 L513.74 232.35 L503.71 217.75 L492.26 202.19 L479.23 185.55 L464.44 167.65 L447.78 148.29 L429.15 127.22 L408.56 104.09 L386.02 78.48 L361.55 49.76 L335.15 17.1M637.07 591.21 L636.74 588.05 L636.4 584.85 L636.06 581.6 L635.71 578.31 L635.39 574.93 L635.08 571.49 L634.76 567.99 L634.43 564.45 L634.1 560.85 L633.76 557.2 L633.41 553.49 L633.03 549.77 L632.62 546.01 L632.2 542.19 L631.77 538.31 L631.33 534.37 L630.88 530.36 L630.42 526.28 L629.95 522.12 L629.47 517.9 L628.97 513.6 L628.45 509.22 L627.93 504.76 L627.38 500.21 L626.82 495.57 L626.24 490.84 L625.64 486.02 L625.02 481.09 L624.37 476.06 L623.7 470.93 L623 465.67 L622.27 460.31 L621.52 454.81 L620.72 449.19 L619.89 443.43 L619.02 437.53 L618.11 431.47 L617.14 425.26 L616.12 418.88 L615.04 412.33 L613.9 405.59 L612.69 398.66 L611.39 391.51 L610 384.15 L608.52 376.55 L606.92 368.7 L605.19 360.58 L603.31 352.17 L601.28 343.46 L599.05 334.41 L596.6 325.01 L593.91 315.21 L590.92 305 L587.59 294.33 L583.86 283.16 L579.65 271.44 L574.87 259.11 L569.4 246.11 L563.11 232.35 L555.81 217.75 L547.29 202.19 L537.27 185.55 L525.46 167.65 L511.5 148.29 L495.06 127.22 L475.85 104.09 L453.68 78.48 L428.54 49.76 L400.47 17.1M652.33 591.21 L652.07 588.05 L651.81 584.85 L651.54 581.6 L651.27 578.31 L651.03 574.93 L650.8 571.49 L650.57 567.99 L650.33 564.45 L650.09 560.85 L649.84 557.2 L649.59 553.49 L649.31 549.77 L649 546.01 L648.69 542.19 L648.37 538.31 L648.04 534.37 L647.71 530.36 L647.37 526.28 L647.03 522.12 L646.67 517.9 L646.31 513.6 L645.94 509.22 L645.56 504.76 L645.16 500.21 L644.76 495.57 L644.34 490.84 L643.92 486.02 L643.47 481.09 L643.02 476.06 L642.54 470.93 L642.05 465.67 L641.54 460.31 L641.01 454.81 L640.46 449.19 L639.88 443.43 L639.28 437.53 L638.64 431.47 L637.98 425.26 L637.28 418.88 L636.54 412.33 L635.75 405.59 L634.92 398.66 L634.03 391.51 L633.09 384.15 L632.08 376.55 L630.99 368.7 L629.81 360.58 L628.54 352.17 L627.16 343.46 L625.65 334.41 L624 325.01 L622.17 315.21 L620.14 305 L617.89 294.33 L615.35 283.16 L612.49 271.44 L609.23 259.11 L605.48 246.11 L601.15 232.35 L596.09 217.75 L590.12 202.19 L582.99 185.55 L574.4 167.65 L563.94 148.29 L551.1 127.22 L535.27 104.09 L515.81 78.48 L492.2 49.76 L464.17 17.1M665.51 591.21 L665.3 588.05 L665.1 584.85 L664.89 581.6 L664.69 578.31 L664.51 574.93 L664.34 571.49 L664.18 567.99 L664.01 564.45 L663.83 560.85 L663.66 557.2 L663.48 553.49 L663.28 549.77 L663.05 546.01 L662.81 542.19 L662.58 538.31 L662.34 534.37 L662.1 530.36 L661.85 526.28 L661.6 522.12 L661.35 517.9 L661.09 513.6 L660.82 509.22 L660.55 504.76 L660.27 500.21 L659.99 495.57 L659.7 490.84 L659.4 486.02 L659.09 481.09 L658.78 476.06 L658.45 470.93 L658.12 465.67 L657.77 460.31 L657.41 454.81 L657.03 449.19 L656.65 443.43 L656.24 437.53 L655.81 431.47 L655.37 425.26 L654.9 418.88 L654.41 412.33 L653.89 405.59 L653.34 398.66 L652.76 391.51 L652.13 384.15 L651.46 376.55 L650.75 368.7 L649.97 360.58 L649.13 352.17 L648.22 343.46 L647.23 334.41 L646.13 325.01 L644.93 315.21 L643.59 305 L642.09 294.33 L640.4 283.16 L638.49 271.44 L636.32 259.11 L633.81 246.11 L630.89 232.35 L627.47 217.75 L623.41 202.19 L618.52 185.55 L612.57 167.65 L605.21 148.29 L595.97 127.22 L584.18 104.09 L568.96 78.48 L549.23 49.76 L523.88 17.1" stroke="#bdbdec" stroke-width="1.05"/>
<path d="M310.82 591.21 L315.5 579.5 L320.58 567 L325.98 553.79 L331.57 540.02 L337.51 525.45 L343.86 509.92 L350.7 493.31 L358.09 475.45 L366.13 456.14 L374.93 435.12 L384.66 412.06M366.29 591.21 L370.68 579.5 L375.46 567 L380.54 553.79 L385.79 540.02 L391.38 525.45 L397.36 509.92 L403.81 493.31 L410.78 475.45 L418.37 456.14 L426.7 435.12 L435.91 412.06M425.99 591.21 L430.05 579.5 L434.49 567 L439.22 553.79 L444.1 540.02 L449.29 525.45 L454.86 509.92 L460.86 493.31 L467.37 475.45 L474.47 456.14 L482.27 435.12 L490.9 412.06M463.02 591.21 L466.87 579.5 L471.08 567 L475.58 553.79 L480.23 540.02 L485.17 525.45 L490.47 509.92 L496.2 493.31 L502.41 475.45 L509.19 456.14 L516.65 435.12 L524.91 412.06M490.27 591.21 L493.96 579.5 L498.01 567 L502.34 553.79 L506.81 540.02 L511.56 525.45 L516.67 509.92 L522.18 493.31 L528.17 475.45 L534.72 456.14 L541.92 435.12 L549.91 412.06M511.97 591.21 L515.54 579.5 L519.46 567 L523.65 553.79 L527.97 540.02 L532.57 525.45 L537.52 509.92 L542.87 493.31 L548.68 475.45 L555.03 456.14 L562.02 435.12 L569.79 412.06M538.13 591.21 L541.55 579.5 L545.31 567 L549.33 553.79 L553.47 540.02 L557.88 525.45 L562.64 509.92 L567.78 493.31 L573.37 475.45 L579.49 456.14 L586.23 435.12 L593.73 412.06M559.33 591.21 L562.61 579.5 L566.24 567 L570.12 553.79 L574.12 540.02 L578.38 525.45 L582.97 509.92 L587.94 493.31 L593.36 475.45 L599.28 456.14 L605.82 435.12 L613.1 412.06M582.57 591.21 L585.72 579.5 L589.2 567 L592.93 553.79 L596.76 540.02 L600.86 525.45 L605.27 509.92 L610.05 493.31 L615.26 475.45 L620.98 456.14 L627.28 435.12 L634.31 412.06M601.92 591.21 L604.94 579.5 L608.3 567 L611.9 553.79 L615.6 540.02 L619.55 525.45 L623.81 509.92 L628.44 493.31 L633.48 475.45 L639.01 456.14 L645.13 435.12 L651.95 412.06M626 591.21 L628.88 579.5 L632.08 567 L635.51 553.79 L639.04 540.02 L642.81 525.45 L646.89 509.92 L651.31 493.31 L656.14 475.45 L661.45 456.14 L667.32 435.12 L673.89 412.06M645.99 591.21 L648.74 579.5 L651.8 567 L655.1 553.79 L658.49 540.02 L662.11 525.45 L666.02 509.92 L670.28 493.31 L674.93 475.45 L680.05 456.14 L685.72 435.12 L692.07 412.06" stroke="#58a858" stroke-width="1" stroke-dasharray="0.9 1.6"/>
<path d="M289.3 589.15 L694.63 29.3M418.3 589.15 L823.63 29.3" stroke="#3a3a3a" stroke-width="1.3" stroke-dasharray="6.6 3"/>
</g>
<g font-family="'DejaVu Sans','Liberation Sans',sans-serif" font-size="7.6" fill="#58a858" text-anchor="middle">
<text x="384.66" y="410">1</text>
<text x="435.91" y="410">2</text>
<text x="490.9" y="410">4</text>
<text x="524.91" y="410">6</text>
<text x="549.91" y="410">8</text>
<text x="569.79" y="410">10</text>
<text x="593.73" y="410">13</text>
<text x="613.1" y="410">16</text>
<text x="634.31" y="410">20</text>
<text x="651.95" y="410">24</text>
<text x="673.89" y="410">30</text>
<text x="692.07" y="410">36</text>
</g>
<g clip-path="url(#cm)" fill="none" stroke-linejoin="round">
<path d="M402.2 29.4 L374.4 125.3 L305 193.6 L334.2 247.5 L368.05 290.1 L395.7 327.5 L416.4 359.2 L434.75 387.3 L431.6 411.9 L412.15 434.6 L402.8 455.5 L397.65 474.7 L392.6 492 L383.45 508.4 L368.05 523.8 L347.05 538.5 L336.15 551.9 L332.45 558.7 L324.1 564.4 L324.8 569.7" stroke="#2828f0" stroke-width="1.6"/>
<path d="M276.8 29.4 L244.3 125.3 L302.6 193.6 L334 247.5 L368.2 290.1 L395.9 327.5 L416.6 359.2 L434.8 387.3 L430.8 411.9 L411.7 434.6 L402.3 455.5 L396.9 474.7 L391.7 492 L382.7 508.4 L367.1 523.8 L346.2 538.5 L335.2 551.9 L331.5 557.4 L323.2 564.4 L324.2 569.7" stroke="#0c960c" stroke-width="2.9"/>
<path d="M403.4 29.4 L375.6 125.3 L305.7 193.6 L335 247.5 L368.5 290.1 L396.1 327.5 L416.8 359.2 L435.3 387.3 L433 411.9 L413.2 434.6 L403.9 455.5 L399 474.7 L394.1 492 L384.8 508.4 L369.6 523.8 L348.5 538.5 L337.7 551.9 L334 558.7 L325.6 564.4 L326 569.7" stroke="#f40c0c" stroke-width="3.1"/>
</g>
<text x="317.4" y="578.9" font-family="'DejaVu Sans','Liberation Sans',sans-serif" font-weight="bold" font-size="10.4" fill="#0c960c">1F</text>
<text x="319.6" y="578.9" font-family="'DejaVu Sans','Liberation Sans',sans-serif" font-weight="bold" font-size="10.4" fill="#f40c0c" stroke="#fff" stroke-width="1.6" paint-order="stroke">3F</text>
<path d="M160.5 29.45 V589.15 H740.5 V29.45 Z" fill="none" stroke="#000" stroke-width="1.1"/>
<path d="M155.8 589.25 H745.2" fill="none" stroke="#000" stroke-width="1.4"/>
<path d="M160.3 589.15 v4.8M160.3 29.3 v-4.3M224.8 589.15 v4.8M224.8 29.3 v-4.3M289.3 589.15 v4.8M289.3 29.3 v-4.3M353.8 589.15 v4.8M353.8 29.3 v-4.3M418.3 589.15 v4.8M418.3 29.3 v-4.3M482.8 589.15 v4.8M482.8 29.3 v-4.3M547.3 589.15 v4.8M547.3 29.3 v-4.3M611.8 589.15 v4.8M611.8 29.3 v-4.3M676.3 589.15 v4.8M676.3 29.3 v-4.3M740.8 589.15 v4.8M740.8 29.3 v-4.3M160.3 29.3 h-4.6M740.5 29.3 h4.8M160.3 125.73 h-4.6M740.5 125.73 h4.8M160.3 194.14 h-4.6M740.5 194.14 h4.8M160.3 247.21 h-4.6M740.5 247.21 h4.8M160.3 290.57 h-4.6M740.5 290.57 h4.8M160.3 327.23 h-4.6M740.5 327.23 h4.8M160.3 358.99 h-4.6M740.5 358.99 h4.8M160.3 387 h-4.6M740.5 387 h4.8M160.3 412.06 h-4.6M740.5 412.06 h4.8M160.3 434.72 h-4.6M740.5 434.72 h4.8M160.3 455.42 h-4.6M740.5 455.42 h4.8M160.3 474.45 h-4.6M740.5 474.45 h4.8M160.3 492.08 h-4.6M740.5 492.08 h4.8M160.3 508.48 h-4.6M740.5 508.48 h4.8M160.3 523.83 h-4.6M740.5 523.83 h4.8M160.3 538.25 h-4.6M740.5 538.25 h4.8M160.3 551.84 h-4.6M740.5 551.84 h4.8M160.3 564.93 h-4.6M740.5 564.93 h4.8M160.3 577.35 h-4.6M740.5 577.35 h4.8" stroke="#000" stroke-width="1.05" fill="none"/>
<g font-family="'DejaVu Sans','Liberation Sans',sans-serif" font-size="12.15" fill="#000">
<text x="160.3" y="606.9" text-anchor="middle">−40</text>
<text x="224.8" y="606.9" text-anchor="middle">−30</text>
<text x="289.3" y="606.9" text-anchor="middle">−20</text>
<text x="353.8" y="606.9" text-anchor="middle">−10</text>
<text x="418.3" y="606.9" text-anchor="middle">0</text>
<text x="482.8" y="606.9" text-anchor="middle">10</text>
<text x="547.3" y="606.9" text-anchor="middle">20</text>
<text x="611.8" y="606.9" text-anchor="middle">30</text>
<text x="676.3" y="606.9" text-anchor="middle">40</text>
<text x="740.8" y="606.9" text-anchor="middle">50</text>
<text x="150.4" y="33.9" text-anchor="end">100</text>
<text x="150.4" y="198.74" text-anchor="end">200</text>
<text x="150.4" y="295.17" text-anchor="end">300</text>
<text x="150.4" y="363.59" text-anchor="end">400</text>
<text x="150.4" y="416.66" text-anchor="end">500</text>
<text x="150.4" y="460.02" text-anchor="end">600</text>
<text x="150.4" y="496.68" text-anchor="end">700</text>
<text x="150.4" y="528.43" text-anchor="end">800</text>
<text x="150.4" y="556.44" text-anchor="end">900</text>
<text x="150.4" y="581.95" text-anchor="end">1000</text>
</g>
<text x="449.8" y="626.3" font-family="'DejaVu Sans','Liberation Sans',sans-serif" font-size="14" letter-spacing="0.66" text-anchor="middle">Temperature (°C)</text>
<text transform="translate(111.4 309.2) rotate(-90)" font-family="'DejaVu Sans','Liberation Sans',sans-serif" font-size="14" letter-spacing="0.55" text-anchor="middle">Pressure (hPa)</text>
<text x="450.3" y="21.2" font-family="'DejaVu Sans','Liberation Sans',sans-serif" font-weight="bold" font-size="12.6" text-anchor="middle">GFS Sounding 44.48°N, 72.73°W Init: 18z Jan 25 [F006] valid 00z Jan 26 2026</text>
<rect x="27.8" y="42.7" width="116.4" height="87.8" rx="2.5" fill="#fff" fill-opacity="0.8" stroke="#ccc" stroke-width="1"/>
<g font-family="'DejaVu Sans','Liberation Sans',sans-serif" font-size="9.72" letter-spacing="0.17" fill="#000">
<path d="M32 50.3 H52.8" stroke="#58a858" stroke-width="1.0" fill="none" stroke-dasharray="0.9 1.6"/>
<text x="60.4" y="53.9">Sat. Mix. Ratio</text>
<path d="M32 63.9 H52.8" stroke="#e4a9a9" stroke-width="1.1" fill="none" stroke-linecap="square"/>
<text x="60.4" y="67.5">Dry Adiabats</text>
<path d="M32 78.5 H52.8" stroke="#b9b9ea" stroke-width="1.1" fill="none" stroke-linecap="square"/>
<text x="60.4" y="82.1">Pseudoadiabats</text>
<path d="M32 92.9 H52.8" stroke="#2828f0" stroke-width="1.6" fill="none" stroke-linecap="square"/>
<text x="60.4" y="96.5">Wetbulb</text>
<path d="M32 106.4 H52.8" stroke="#0c960c" stroke-width="2.7" fill="none" stroke-linecap="square"/>
<text x="60.4" y="110">Dewpoint</text>
<path d="M32 121 H52.8" stroke="#f40c0c" stroke-width="2.9" fill="none" stroke-linecap="square"/>
<text x="60.4" y="124.6">Temperature</text>
</g>
<rect x="22.4" y="29" width="1" height="3" fill="#808080"/>
<rect x="23.8" y="122" width="6" height="6" fill="#ffd320"/>
<rect x="23.8" y="190.8" width="8.2" height="5.4" fill="#ffc020"/>
<rect x="23.8" y="243.4" width="2.2" height="6.6" fill="#ffe010"/>
<rect x="23.8" y="287.2" width="4.1" height="6.1" fill="#ffd818"/>
<rect x="23.8" y="323.4" width="6.2" height="6.3" fill="#ffd320"/>
<rect x="20.9" y="355.4" width="2.9" height="6" fill="#808080"/>
<rect x="19.1" y="383.3" width="4.7" height="6.3" fill="#808080"/>
<rect x="19.9" y="408.8" width="3.9" height="5.5" fill="#808080"/>
<rect x="23.8" y="431.4" width="2.5" height="5.6" fill="#f2e215"/>
<rect x="23.8" y="452.3" width="19" height="5.5" fill="#ff8c30"/>
<rect x="23.8" y="471.7" width="13.4" height="5" fill="#ffa828"/>
<rect x="23.8" y="488.8" width="1.2" height="6.1" fill="#f6f04a"/>
<rect x="19.1" y="505.4" width="4.7" height="5.8" fill="#808080"/>
<rect x="13" y="521" width="10.8" height="5.8" fill="#808080"/>
<rect x="10" y="535" width="13.8" height="5.3" fill="#808080"/>
<rect x="10" y="549" width="13.8" height="5" fill="#808080"/>
<rect x="10" y="555.6" width="13.8" height="5.7" fill="#808080"/>
<rect x="17.3" y="561.3" width="6.5" height="6.5" fill="#808080"/>
<path d="M24 589v4.5M52.3 589v4.5M80.5 589v4.5" stroke="#000" stroke-width="0.95"/>
<g font-family="'DejaVu Sans','Liberation Sans',sans-serif" font-size="9.4" text-anchor="middle"><text x="24.8" y="603.7">0</text><text x="51.6" y="603.7">−1</text><text x="79.8" y="603.7">−2</text></g>
<text x="52.5" y="623.2" font-family="'DejaVu Sans','Liberation Sans',sans-serif" font-size="12.5" letter-spacing="0.15" text-anchor="middle">Omega (Pa/s)</text>
<defs><clipPath id="cmap"><rect x="559.4" y="29.3" width="181" height="181"/></clipPath></defs>
<rect x="559.4" y="29.3" width="181" height="181" fill="#fff"/>
<g clip-path="url(#cmap)">
<path d="M558 60.5 L562 60.69 L566 60.95 L570 61.42 L574 62.22 L578 63.04 L582 64.44 L586 65.84 L590 66.54 L594 66.89 L598 67.25 L602 68.13 L606 69.11 L610 70.49 L614 72.27 L618 74.01 L622 74.22 L626 74.43 L630 74.64 L634 74.79 L638 74.73 L642 74.67 L646 74.61 L650 74.81 L654 75.09 L658 75.46 L662 76.08 L666 76.7 L670 76.95 L674 77.19 L678 77.44 L682 77.89 L686 78.42 L690 78.94 L694 79.64 L698 80.51 L702 81.38 L706 82.57 L710 83.86 L714 85.6 L718 88.19 L722 90.77 L726 94.02 L730 97.72 L734 101.31 L738 104.56 L742 107 L743 213 L557 213 Z" fill="#00ffff"/>
<path d="M558 78 L562 78.39 L566 78.9 L570 79.4 L574 79.9 L578 80.4 L582 80.88 L586 81.37 L590 81.84 L594 82.31 L598 82.77 L602 83.23 L606 83.67 L610 84.1 L614 84.52 L618 84.94 L622 85.36 L626 85.76 L630 86.17 L634 86.58 L638 86.99 L642 87.4 L646 87.82 L650 88.24 L654 88.67 L658 89.11 L662 89.52 L666 89.89 L670 90.24 L674 90.59 L678 90.96 L682 91.36 L686 91.81 L690 92.32 L694 92.92 L698 93.61 L702 94.49 L706 95.9 L710 97.79 L714 100.02 L718 102.47 L722 105 L726 107.74 L730 110.86 L734 114.32 L738 118.05 L742 121 L743 213 L557 213 Z" fill="#00e9ff"/>
<path d="M558 95.5 L562 95.59 L566 95.72 L570 95.85 L574 95.99 L578 96.13 L582 96.28 L586 96.43 L590 96.59 L594 96.75 L598 96.92 L602 97.08 L606 97.25 L610 97.42 L614 97.58 L618 97.75 L622 97.93 L626 98.11 L630 98.3 L634 98.5 L638 98.71 L642 98.95 L646 99.2 L650 99.47 L654 99.76 L658 100.08 L662 100.45 L666 100.86 L670 101.34 L674 101.87 L678 102.46 L682 103.12 L686 103.85 L690 104.66 L694 105.53 L698 106.49 L702 107.58 L706 109.08 L710 110.96 L714 113.13 L718 115.51 L722 118 L726 120.74 L730 123.86 L734 127.32 L738 131.05 L742 134 L743 213 L557 213 Z" fill="#00d3ff"/>
<path d="M558 114 L562 113.79 L566 113.51 L570 113.24 L574 112.98 L578 112.73 L582 112.51 L586 112.32 L590 112.17 L594 112.06 L598 112.01 L602 112 L606 112 L610 112 L614 112 L618 112 L622 112 L626 112 L630 112 L634 112 L638 112 L642 112 L646 112 L650 112 L654 112 L658 112.01 L662 112.13 L666 112.4 L670 112.8 L674 113.34 L678 113.98 L682 114.73 L686 115.56 L690 116.47 L694 117.45 L698 118.47 L702 119.61 L706 121.21 L710 123.26 L714 125.65 L718 128.26 L722 131 L726 134 L730 137.44 L734 141.24 L738 145.35 L742 148.6 L743 213 L557 213 Z" fill="#00bcff"/>
<path d="M558 136 L562 135.16 L566 134.05 L570 132.98 L574 131.95 L578 130.97 L582 130.05 L586 129.21 L590 128.45 L594 127.79 L598 127.23 L602 126.78 L606 126.35 L610 125.93 L614 125.52 L618 125.13 L622 124.76 L626 124.42 L630 124.11 L634 123.82 L638 123.58 L642 123.37 L646 123.2 L650 123.08 L654 123.02 L658 123.01 L662 123.15 L666 123.46 L670 123.94 L674 124.56 L678 125.3 L682 126.16 L686 127.12 L690 128.16 L694 129.26 L698 130.41 L702 131.66 L706 133.37 L710 135.51 L714 137.98 L718 140.67 L722 143.5 L726 146.59 L730 150.11 L734 154 L738 158.19 L742 161.5 L743 213 L557 213 Z" fill="#04a6fb"/>
<path d="M558 162 L562 160.82 L566 159.27 L570 157.75 L574 156.28 L578 154.85 L582 153.46 L586 152.14 L590 150.87 L594 149.67 L598 148.54 L602 147.47 L606 146.36 L610 145.23 L614 144.08 L618 142.94 L622 141.83 L626 140.76 L630 139.75 L634 138.82 L638 138 L642 137.29 L646 136.72 L650 136.3 L654 136.06 L658 136.01 L662 136.12 L666 136.39 L670 136.79 L674 137.31 L678 137.95 L682 138.69 L686 139.53 L690 140.44 L694 141.42 L698 142.46 L702 143.63 L706 145.36 L710 147.59 L714 150.2 L718 153.05 L722 156 L726 159.18 L730 162.79 L734 166.76 L738 171.03 L742 174.4 L743 213 L557 213 Z" fill="#0891f4"/>
<path d="M558 222 L562 217.04 L566 210.52 L570 204.18 L574 198.1 L578 192.35 L582 187 L586 182.13 L590 177.83 L594 174.16 L598 171.19 L602 168.92 L606 166.79 L610 164.74 L614 162.78 L618 160.92 L622 159.17 L626 157.55 L630 156.08 L634 154.77 L638 153.62 L642 152.67 L646 151.92 L650 151.38 L654 151.07 L658 151 L662 151.06 L666 151.19 L670 151.4 L674 151.67 L678 152.02 L682 152.42 L686 152.89 L690 153.42 L694 154.01 L698 154.66 L702 155.47 L706 157.03 L710 159.27 L714 161.98 L718 164.96 L722 168 L726 171.26 L730 175.01 L734 179.16 L738 183.65 L742 187.2 L743 213 L557 213 Z" fill="#0c7ded"/>
<path d="M558 232 L562 227.48 L566 221.54 L570 215.77 L574 210.23 L578 204.98 L582 200.07 L586 195.58 L590 191.56 L594 188.08 L598 185.2 L602 182.89 L606 180.71 L610 178.59 L614 176.54 L618 174.59 L622 172.75 L626 171.03 L630 169.47 L634 168.06 L638 166.84 L642 165.81 L646 164.99 L650 164.41 L654 164.08 L658 164 L662 164.03 L666 164.08 L670 164.18 L674 164.3 L678 164.47 L682 164.66 L686 164.9 L690 165.17 L694 165.47 L698 165.81 L702 166.34 L706 167.79 L710 170.05 L714 172.85 L718 175.92 L722 179 L726 182.24 L730 185.95 L734 190.06 L738 194.5 L742 198 L743 213 L557 213 Z" fill="#0a69e4"/>
<path d="M558 242 L562 238.21 L566 233.26 L570 228.43 L574 223.78 L578 219.32 L582 215.11 L586 211.16 L590 207.53 L594 204.23 L598 201.31 L602 198.74 L606 196.21 L610 193.69 L614 191.21 L618 188.8 L622 186.49 L626 184.31 L630 182.29 L634 180.45 L638 178.83 L642 177.46 L646 176.36 L650 175.57 L654 175.11 L658 175 L662 175.01 L666 175.04 L670 175.08 L674 175.14 L678 175.22 L682 175.32 L686 175.44 L690 175.57 L694 175.73 L698 175.9 L702 176.25 L706 177.52 L710 179.61 L714 182.24 L718 185.13 L722 188 L726 191.02 L730 194.49 L734 198.34 L738 202.51 L742 205.8 L743 213 L557 213 Z" fill="#0856da"/>
<path d="M558 252 L562 248.95 L566 244.96 L570 241.06 L574 237.25 L578 233.57 L582 230.01 L586 226.6 L590 223.35 L594 220.27 L598 217.37 L602 214.64 L606 211.82 L610 208.93 L614 206.02 L618 203.12 L622 200.29 L626 197.57 L630 195.01 L634 192.66 L638 190.56 L642 188.76 L646 187.31 L650 186.26 L654 185.64 L658 185.5 L662 185.51 L666 185.52 L670 185.54 L674 185.57 L678 185.61 L682 185.66 L686 185.71 L690 185.78 L694 185.86 L698 185.95 L702 186.19 L706 187.32 L710 189.28 L714 191.86 L718 194.84 L722 198 L726 201.86 L730 206.9 L734 212.9 L738 219.62 L742 225 L743 213 L557 213 Z" fill="#0645cf"/>
<path d="M558 262 L562 259.72 L566 256.69 L570 253.68 L574 250.7 L578 247.75 L582 244.82 L586 241.91 L590 239.04 L594 236.2 L598 233.39 L602 230.57 L606 227.51 L610 224.23 L614 220.81 L618 217.32 L622 213.83 L626 210.42 L630 207.15 L634 204.11 L638 201.37 L642 198.99 L646 197.05 L650 195.63 L654 194.8 L658 194.6 L662 194.62 L666 194.66 L670 194.72 L674 194.81 L678 194.92 L682 195.06 L686 195.22 L690 195.41 L694 195.62 L698 195.87 L702 196.26 L706 197.46 L710 199.41 L714 201.94 L718 204.86 L722 208 L726 211.86 L730 216.9 L734 222.9 L738 229.62 L742 235 L743 213 L557 213 Z" fill="#0436c2"/>
<path d="M558 272 L562 270.47 L566 268.37 L570 266.21 L574 263.98 L578 261.69 L582 259.34 L586 256.92 L590 254.45 L594 251.91 L598 249.32 L602 246.6 L606 243.44 L610 239.87 L614 236 L618 231.92 L622 227.76 L626 223.61 L630 219.58 L634 215.78 L638 212.31 L642 209.28 L646 206.79 L650 204.94 L654 203.86 L658 203.6 L662 203.63 L666 203.7 L670 203.82 L674 203.97 L678 204.17 L682 204.4 L686 204.68 L690 205.01 L694 205.37 L698 205.78 L702 206.37 L706 207.88 L710 210.24 L714 213.2 L718 216.53 L722 220 L726 223.93 L730 228.7 L734 234.18 L738 240.2 L742 245 L743 213 L557 213 Z" fill="#0329b4"/>
<ellipse cx="577" cy="189.5" rx="16.5" ry="8.2" fill="#0c7ded" transform="rotate(8 577 189.5)"/>
<rect x="662" y="200.3" width="21.5" height="10" fill="#0a22b0"/>
<path d="M716.99 51.14 L741 51.14M724.22 51.14 L724.22 85.86M703.97 85.86 L709.76 95.99 L716.99 106.11 L721.33 114.79 L724.22 120M709.76 95.99 L703.97 103.22 L705.42 114.79M572.47 132.02 L573.62 162.4 L571.74 200.01M589.1 132.02 L590.26 162.4 L588.38 200.01M605.74 132.02 L606.89 162.4 L605.01 200.01M621.65 132.02 L622.81 162.4 L620.92 200.01M560.89 166.74 L586.93 167.46 L605.74 165.29 L633.22 167.46M576.81 133.47 L605.74 134.91 L630.33 142.14M666.36 166.74 L667.81 184.09 L664.91 208.69M682.27 166.74 L683.72 184.09 L680.82 208.69M709.76 166.74 L711.2 184.09 L708.31 208.69M724.22 166.74 L725.67 184.09 L722.77 208.69M649 140.7 L663.47 143.59 L675.04 147.93M657.68 186.99 L692.4 197.11 L696.74 211" fill="none" stroke="#46646e" stroke-width="0.5" stroke-linejoin="round" stroke-opacity="0.55"/>
<path d="M568.85 43.91 L571.74 41.02 L573.91 41.74 L576.08 36.68 L576.81 41.74 L575.36 46.81 L572.47 45.36 L568.85 43.91M599.95 102.93 L650 102.5M628.88 30.17 L631.77 33.79 L639.01 35.96 L643.35 40.3 L644.79 45.36 L650 48.25M639.01 67.78 L643.35 62.72 L650 60.55M640.45 69.23 L644.79 65.9 L650 64.89M649 64.45 L654.79 60.98 L662.02 54.47 L667.81 50.86 L675.04 48.54 L683.72 45.65 L690.95 41.74 L696.74 35.96 L703.97 33.79 L707.59 30.17M649 46.81 L657.68 50.42 L666.36 54.04 L675.04 56.93 L680.82 60.55 L682.99 65.61 L683.72 69.95 L688.06 72.84 L695.29 74.29 L699.63 77.18 L702.52 81.52M692.4 38.85 L698.18 39.57 L706.86 40.3 L712.65 42.47 L716.26 46.81 L715.54 52.59 L712.65 58.38 L709.76 64.16 L710.48 69.95 L708.31 75.74 L704.69 80.08 L702.52 81.81M716.99 46.81 L730.01 30.17M716.99 46.81 L724.22 49.7 L730.01 56.93 L734.35 65.61 L736.52 72.84 L735.79 78.63 L734.35 88.76 L732.18 95.99 L734.35 100.33 L741 106.11M724.22 77.91 L726.39 74.29 L725.67 80.08 L727.84 82.97 L728.56 85.86 L725.67 85.14 L724.22 77.91M730.01 64.16 L732.9 68.5 L735.79 72.84 L734.35 74.29 L732.18 69.95M649 102.21 L680.1 102.21M680.1 102.21 L677.93 109.01 L678.65 114.79 L677.21 120M690.95 94.54 L691.67 120M637.27 149.38 L637.56 162.4 L636.84 172.52 L634.67 184.09 L632.5 195.67 L631.77 211M567.4 160.23 L572.47 160.95 L576.08 161.67 L572.47 162.83 L568.13 161.67 L567.4 160.23M675.04 119 L673.59 123.34 L667.81 125.51 L666.36 130.57 L663.47 137.81 L660.57 145.04 L658.4 152.27 L656.96 160.95 L656.23 166.74 L654.79 172.52 L655.51 176.86 L649 178.31M692.4 119 L692.69 133.47 L693.12 147.93 L693.84 156.61 L696.74 162.4 L699.63 165.29M741 132.02 L735.79 133.47 L731.45 131.3 L727.11 129.13 L724.22 126.96M702.52 137.81 L704.69 138.53 L705.42 142.14 L703.25 141.42 L702.52 137.81M681.55 145.04 L684.44 145.76 L683.72 147.93 L681.55 147.21 L681.55 145.04M649 152.27 L651.89 156.61 L656.23 160.95M672.87 201.45 L683.72 201.45 L683.72 210.13 L672.87 210.13 L672.87 201.45" fill="none" stroke="#1c2c34" stroke-width="0.8" stroke-linejoin="round"/>
<path d="M559.45 34.51 L566.68 31.62 L572.47 29.74M559.45 86.59 L565.23 88.03 L571.02 88.76 L576.81 88.03 L582.3 87.31M594.16 86.59 L601.4 84.42 L608.63 81.52 L618.76 79.35 L627.43 77.18 L636.11 74.29 L644.79 71.4 L650 69.95M586.93 120 L595.61 114.79 L604.29 111.18 L611.52 110.45 L615.86 114.79 L618.76 120M649 69.95 L657.68 69.23 L666.36 69.23 L675.04 71.4 L683.72 73.13 L692.4 72.84 L699.63 72.12 L706.86 73.57 L712.65 76.46 L721.33 78.63 L730.01 77.18 L741 77.18M696.74 30.17 L703.97 30.89 L711.2 30.6M730.01 30.17 L735.79 31.18 L741 32.34M666.36 118.41 L675.04 117.69 L682.27 117.98M712.65 119.42 L718.43 117.69 L724.22 116.24M735.07 115.37 L741 114.79M559.45 153.72 L565.23 150.82 L571.02 150.1 L576.81 152.27 L581.14 153.72 L586.93 150.1 L592.72 146.48 L598.5 144.31 L602.84 147.93 L605.74 153.72 L611.52 158.06 L618.76 158.78 L625.99 157.33 L633.22 155.16 L639.01 155.16 L644.79 157.33 L650 160.95M559.45 182.65 L566.68 180.48 L573.91 179.76 L581.14 181.2 L588.38 184.09 L595.61 185.54 L602.84 186.99 L608.63 189.88 L614.42 192.77 L620.2 194.22 L625.99 189.88 L631.77 184.82 L637.56 182.65 L643.35 184.09 L650 188.43M566.68 129.13 L572.47 125.51 L579.7 121.17 L584.04 119M618.76 119.72 L624.54 120.74 L630.33 120.45M654.79 121.17 L663.47 119.72M685.16 119 L690.95 123.34 L696.74 124.79 L703.97 123.34 L712.65 121.17 L718.43 119.72M656.23 158.78 L663.47 157.33 L672.14 156.61 L682.27 155.89 L692.4 154.44 L701.08 152.99 L709.76 151.98 L718.43 151.55 L727.11 152.27M649 186.99 L657.68 185.54 L666.36 184.09 L675.04 182.65 L685.16 179.76 L693.84 178.31 L702.52 179.03 L711.2 179.76 L721.33 181.2 L731.45 181.92 L741 182.65" fill="none" stroke="#1a2cff" stroke-width="1.0" stroke-linejoin="round" stroke-dasharray="2.4 1.8"/>
<path d="M559.45 41.02 L566.68 36.68 L575.36 33.06 L585.48 32.34 L592.72 34.51 L597.06 41.02 L599.95 48.25 L604.29 55.48 L606.46 62.72 L607.91 69.95 L612.97 73.57 L618.76 75.74 L625.99 76.46 L633.22 75.01 L636.84 71.4 L639.01 67.78 L644.79 64.16 L650 61.99M559.45 79.35 L562.34 80.8 L564.51 85.86 L565.23 91.65 L568.13 95.26 L573.91 96.71 L581.14 95.99 L588.38 95.7 L595.61 97.43 L601.4 99.31 L605.74 98.88 L610.08 96.71M628.88 90.92 L634.67 92.37 L639.01 93.82 L639.73 97.43 L639.01 101.77M586.93 114.79 L595.61 111.18 L604.29 109.73 L611.52 110.45 L612.97 114.79 L610.08 120M623.09 120 L624.54 113.35 L628.88 108.28 L633.22 106.11M649 71.4 L657.68 74.29 L662.02 78.63 L664.91 85.86 L667.08 93.09 L667.81 101.77 L666.36 109.01 L667.81 114.79 L670.7 120M702.52 81.81 L701.8 93.09 L701.08 103.22 L698.91 111.9 L695.29 120M559.45 133.47 L565.23 132.02 L572.47 130.57 L579.7 129.85 L585.48 129.13M594.89 131.3 L595.61 136.36 L600.67 140.7 L602.84 147.93 L603.57 158.06 L605.74 165.29 L611.52 171.08 L619.48 179.03 L621.65 176.86 L627.43 174.69 L633.22 173.25 L636.84 172.52M560.17 151.55 L563.79 146.48 L568.13 143.59 L572.47 143.59 L574.64 147.93 L575.36 153.72 L579.7 158.06 L584.04 157.33 L589.82 155.16 L594.16 157.33 L594.89 163.84 L593.44 169.63 L594.89 176.86 L599.95 182.65 L604.29 188.43 L608.63 197.11 L612.97 201.45 L618.76 202.9 L624.54 200.01 L630.33 195.67 L636.11 194.22 L640.45 198.56 L650 201.45M559.45 172.52 L563.79 170.35 L569.57 170.35 L575.36 172.52 L579.7 176.86 L581.87 182.65 L584.76 188.43 L589.82 192.77 L595.61 194.22 L599.95 197.11 L602.84 202.9 L605.01 211M608.63 119 L609.35 133.47 L610.08 143.59 L612.25 152.27 L617.31 158.06 L623.09 160.23 L628.88 158.78 L634.67 156.61 L639.01 158.06 L643.35 163.84 L647.69 173.97 L650 176.86M623.82 119 L624.54 126.23 L625.26 133.47 L628.88 137.81 L633.22 139.25M634.67 136.36 L639.01 137.08 L643.35 143.59 L646.24 150.82 L650 158.06M675.76 123.34 L675.04 133.47 L675.76 140.7 L679.38 146.48 L684.44 150.1 L688.06 151.55 L692.4 151.11 L699.63 150.1 L706.86 148.65 L711.92 147.93M693.84 120.45 L690.95 123.34 L688.06 127.68 L692.4 133.47 L698.18 129.85 L706.86 129.13 L714.09 127.68 L718.43 126.96M649 178.31 L656.23 177.59 L664.91 176.86M683.72 176.14 L689.5 173.25 L695.29 172.52 L697.46 173.97 L706.86 175.42 L715.54 178.31 L724.22 181.2 L732.9 184.82 L741 186.99M649 162.4 L656.23 160.95 L663.47 160.23 L677.93 161.67 L692.4 162.4 L699.63 160.95 L703.97 160.23 L709.76 160.95 L716.99 165.29 L725.67 169.63 L734.35 172.52 L741 173.97M712.65 148.65 L721.33 149.38 L730.01 152.27M649 192.77 L656.23 190.6 L663.47 188.43 L670.7 189.88 L677.93 189.88 L685.16 188.43 L690.95 191.33 L695.29 192.77M649 204.35 L656.23 202.18 L663.47 201.45 L669.25 204.35 L672.87 207.24M718.43 198.56 L725.67 200.01 L734.35 200.01 L741 201.45M703.97 205.79 L709.76 208.69 L718.43 207.24" fill="none" stroke="#0c1c26" stroke-width="1.0" stroke-linejoin="round"/>
<path d="M575.36 120 L584.04 112.62 L594.16 106.11 L604.29 100.33 L614.42 93.82 L620.2 89.48 L623.09 85.14 L625.99 81.52 L630.33 80.08 L632.5 80.8M599.95 103.22 L608.63 98.88 L615.86 95.26 L621.65 91.65 L625.99 89.48 L630.33 88.03 L631.05 84.42 L632.5 80.8M620.2 85.86 L623.09 82.97 L627.43 80.8 L628.88 83.69 L625.26 86.59 L620.92 88.03 L620.2 85.86M608.63 83.69 L612.97 85.86 L618.76 87.31M636.84 99.6 L634.67 104.67 L635.82 109.01 L633.51 114.79 L634.38 120M639.01 99.6 L637.27 104.67 L637.85 109.73 L636.11 114.79 L636.11 120M560.89 113.35 L563.79 109.01 L566.68 106.11M560.17 116.53 L564.51 111.61M649 61.99 L653.34 58.38 L657.68 55.48 L663.47 51.14 L670.7 47.53 L677.93 46.08 L685.16 43.91 L690.95 40.3 L695.29 36.68 L699.63 33.06 L702.52 30.17M680.1 102.21 L682.99 94.54 L686.61 93.09 L690.95 93.82 L693.84 91.65 L696.01 93.82 L698.18 88.76 L701.08 85.14 L702.52 81.81M559.45 127.68 L563.79 125.51 L569.57 122.62 L573.91 119M559.45 129.85 L565.23 126.96 L571.74 123.34 L576.08 119M633.22 119 L634.67 124.79 L633.22 132.02 L633.94 139.25 L633.22 149.38M559.45 201.45 L585.48 201.45 L586.93 204.35 L590.55 205.79 L592.72 209.41 L594.16 211M630.33 199.28 L639.01 200.01 L644.79 201.45 L650 202.18M560.89 139.25 L563.79 142.14 L564.51 146.48M712.65 147.93 L714.09 143.59 L717.71 142.87 L719.88 138.53 L721.33 142.87 L723.5 136.36 L724.94 140.7 L727.11 134.91 L727.84 139.25 L730.73 137.08 L733.62 138.53 L735.79 136.36 L738.69 134.19 L741 133.47M716.99 144.31 L721.33 145.04 L724.22 142.14 L727.84 141.42M711.92 147.93 L711.2 150.1 L706.86 155.16 L703.97 160.23 L699.63 165.29 L698.18 171.08 L697.46 176.14 L701.08 179.76 L699.63 181.92 L695.29 184.09 L692.4 188.43 L695.29 192.77 L698.91 194.22 L701.08 197.84 L702.52 201.45M631.2 211 L631.2 199.8 L683.5 199.8 L690 203.5" fill="none" stroke="#04121a" stroke-width="1.1" stroke-linejoin="round"/>
<g font-family="'DejaVu Sans','Liberation Sans',sans-serif" font-size="5.6" text-anchor="middle">
<text x="588.4" y="89.7" fill="#1a2cff">516</text>
<text x="729.5" y="117.8" fill="#1a2cff">522</text>
<text x="736" y="155.2" fill="#1a2cff">528</text>
<text x="594.5" y="129.6" fill="#0a1a24">1020</text>
<text x="674.5" y="179.2" fill="#0a1a24">1022</text>
<text x="712" y="204.3" fill="#0a1a24">1020</text>
<text x="625.5" y="78.7" fill="#0a3a44">1024</text>
</g>
</g>
<circle cx="649.7" cy="119.7" r="4.6" fill="#f00" stroke="#000" stroke-width="0.8"/>
<rect x="559.4" y="29.3" width="181" height="181" fill="none" stroke="#000" stroke-width="1.3"/>
<path d="M770.8 28.4 L747.8 28.4" stroke="#000" stroke-width="1" fill="none" stroke-linecap="butt"/><path d="M747.8 28.4 L750.67 19.2 L753.55 28.4 Z" fill="#000" stroke="#000" stroke-width="0.6"/><path d="M754.99 28.4 L757.86 19.2 L760.74 28.4 Z" fill="#000" stroke="#000" stroke-width="0.6"/>
<path d="M770.8 124.63 L747.8 125.03M763.61 124.75 L760.58 115.6M766.49 124.7 L763.45 115.55M769.36 124.65 L767.84 120.08" stroke="#000" stroke-width="1" fill="none" stroke-linecap="butt"/><path d="M747.8 125.03 L750.52 115.78 L753.55 124.93 Z" fill="#000" stroke="#000" stroke-width="0.6"/><path d="M754.99 124.9 L757.7 115.65 L760.74 124.8 Z" fill="#000" stroke="#000" stroke-width="0.6"/>
<path d="M770.35 190.07 L748.25 196.41M770.35 190.07 L767.7 186.05" stroke="#000" stroke-width="1" fill="none" stroke-linecap="butt"/><path d="M748.25 196.41 L748.47 186.78 L753.77 194.83 Z" fill="#000" stroke="#000" stroke-width="0.6"/><path d="M755.15 194.43 L755.38 184.8 L760.68 192.85 Z" fill="#000" stroke="#000" stroke-width="0.6"/><path d="M762.06 192.45 L762.29 182.82 L767.59 190.87 Z" fill="#000" stroke="#000" stroke-width="0.6"/>
<path d="M770.11 242.38 L748.49 250.25M763.35 244.84 L757.5 237.18M766.05 243.85 L760.21 236.19M768.76 242.87 L762.91 235.21M771.46 241.89 L765.61 234.23M774.16 240.9 L771.23 237.07" stroke="#000" stroke-width="1" fill="none" stroke-linecap="butt"/><path d="M748.49 250.25 L748.05 240.62 L753.9 248.28 Z" fill="#000" stroke="#000" stroke-width="0.6"/><path d="M755.25 247.79 L754.8 238.16 L760.65 245.82 Z" fill="#000" stroke="#000" stroke-width="0.6"/>
<path d="M769.89 285.18 L748.71 294.17M763.27 287.99 L757.03 280.64M765.92 286.86 L759.67 279.52M768.56 285.74 L762.32 278.39" stroke="#000" stroke-width="1" fill="none" stroke-linecap="butt"/><path d="M748.71 294.17 L747.77 284.57 L754.01 291.92 Z" fill="#000" stroke="#000" stroke-width="0.6"/><path d="M755.33 291.36 L754.38 281.76 L760.62 289.11 Z" fill="#000" stroke="#000" stroke-width="0.6"/>
<path d="M769.89 321.84 L748.71 330.83M763.27 324.65 L757.03 317.3M765.92 323.52 L759.67 316.18M768.56 322.4 L765.44 318.73" stroke="#000" stroke-width="1" fill="none" stroke-linecap="butt"/><path d="M748.71 330.83 L747.77 321.23 L754.01 328.58 Z" fill="#000" stroke="#000" stroke-width="0.6"/><path d="M755.33 328.02 L754.38 318.42 L760.62 325.77 Z" fill="#000" stroke="#000" stroke-width="0.6"/>
<path d="M770.17 354.34 L748.43 361.83M756.58 359.02 L750.87 351.26M759.3 358.09 L753.59 350.33M762.02 357.15 L756.3 349.39M764.74 356.22 L759.02 348.45M767.46 355.28 L764.6 351.4" stroke="#000" stroke-width="1" fill="none" stroke-linecap="butt"/><path d="M748.43 361.83 L748.15 352.2 L753.86 359.96 Z" fill="#000" stroke="#000" stroke-width="0.6"/>
<path d="M770.17 382.36 L748.43 389.84M756.58 387.04 L750.87 379.27M759.3 386.1 L753.59 378.34M762.02 385.16 L756.3 377.4M764.74 384.23 L759.02 376.46" stroke="#000" stroke-width="1" fill="none" stroke-linecap="butt"/><path d="M748.43 389.84 L748.15 380.21 L753.86 387.97 Z" fill="#000" stroke="#000" stroke-width="0.6"/>
<path d="M769.89 406.66 L748.71 415.65M756.65 412.28 L750.41 404.93M759.3 411.16 L753.06 403.81" stroke="#000" stroke-width="1" fill="none" stroke-linecap="butt"/><path d="M748.71 415.65 L747.77 406.06 L754.01 413.4 Z" fill="#000" stroke="#000" stroke-width="0.6"/>
<path d="M768.48 426.9 L750.12 440.74M757 435.55 L749.17 429.94" stroke="#000" stroke-width="1" fill="none" stroke-linecap="butt"/><path d="M750.12 440.74 L746.88 431.67 L754.71 437.28 Z" fill="#000" stroke="#000" stroke-width="0.6"/>
<path d="M768.48 447.59 L750.12 461.44M757 456.25 L749.17 450.63" stroke="#000" stroke-width="1" fill="none" stroke-linecap="butt"/><path d="M750.12 461.44 L746.88 452.36 L754.71 457.98 Z" fill="#000" stroke="#000" stroke-width="0.6"/>
<path d="M768.6 466.79 L750 480.31M750 480.31 L742.26 474.56M752.32 478.62 L744.59 472.87M754.65 476.93 L746.91 471.18M756.97 475.24 L749.24 469.49" stroke="#000" stroke-width="1" fill="none" stroke-linecap="butt"/>
<path d="M769.16 485.25 L749.44 497.1M749.44 497.1 L742.24 490.69M751.91 495.62 L744.7 489.21M754.37 494.14 L747.17 487.73" stroke="#000" stroke-width="1" fill="none" stroke-linecap="butt"/>
<path d="M766.22 498.4 L752.38 516.77M752.38 516.77 L743.3 513.53M754.11 514.47 L745.03 511.23" stroke="#000" stroke-width="1" fill="none" stroke-linecap="butt"/>
<path d="M758.1 511.5 L760.5 534.37M760.5 534.37 L751.65 538.19M760.2 531.51 L751.35 535.33" stroke="#000" stroke-width="1" fill="none" stroke-linecap="butt"/>
<path d="M752.87 541.41 L765.73 560.48M765.73 560.48 L759.71 568.01M764.12 558.09 L761.11 561.86" stroke="#000" stroke-width="1" fill="none" stroke-linecap="butt"/>
<path d="M748.79 563.89 L769.81 573.25M765.87 571.49 L765.31 576.28" stroke="#000" stroke-width="1" fill="none" stroke-linecap="butt"/>
<defs><clipPath id="ch"><rect x="785.8" y="29.3" width="200.2" height="170.6"/></clipPath></defs>
<g clip-path="url(#ch)" fill="none">
<ellipse cx="804.2" cy="139.5" rx="24.52" ry="21.32" stroke="#b4b4b4" stroke-width="1" stroke-dasharray="1 1.7"/>
<ellipse cx="804.2" cy="139.5" rx="49.04" ry="42.64" stroke="#b4b4b4" stroke-width="1" stroke-dasharray="1 1.7"/>
<ellipse cx="804.2" cy="139.5" rx="73.56" ry="63.96" stroke="#b4b4b4" stroke-width="1" stroke-dasharray="1 1.7"/>
<ellipse cx="804.2" cy="139.5" rx="98.08" ry="85.28" stroke="#b4b4b4" stroke-width="1" stroke-dasharray="1 1.7"/>
<ellipse cx="804.2" cy="139.5" rx="122.6" ry="106.6" stroke="#b4b4b4" stroke-width="1" stroke-dasharray="1 1.7"/>
<ellipse cx="804.2" cy="139.5" rx="147.12" ry="127.92" stroke="#b4b4b4" stroke-width="1" stroke-dasharray="1 1.7"/>
<ellipse cx="804.2" cy="139.5" rx="171.64" ry="149.24" stroke="#b4b4b4" stroke-width="1" stroke-dasharray="1 1.7"/>
<ellipse cx="804.2" cy="139.5" rx="196.16" ry="170.56" stroke="#b4b4b4" stroke-width="1" stroke-dasharray="1 1.7"/>
<ellipse cx="804.2" cy="139.5" rx="220.68" ry="191.88" stroke="#b4b4b4" stroke-width="1" stroke-dasharray="1 1.7"/>
<ellipse cx="804.2" cy="139.5" rx="245.2" ry="213.2" stroke="#b4b4b4" stroke-width="1" stroke-dasharray="1 1.7"/>
<ellipse cx="804.2" cy="139.5" rx="269.72" ry="234.52" stroke="#b4b4b4" stroke-width="1" stroke-dasharray="1 1.7"/>
<path d="M804.2 29.3 V199.9" stroke="#555" stroke-width="1.4"/>
<path d="M785.8 139.5 H986" stroke="#000" stroke-width="1.1"/>
</g>
<g font-family="'DejaVu Sans','Liberation Sans',sans-serif" font-size="9.4" fill="#8a8a8a" text-anchor="middle">
<text x="828.72" y="155.3">20</text>
<text x="853.24" y="155.3">40</text>
<text x="877.76" y="155.3">60</text>
<text x="902.28" y="155.3">80</text>
<text x="926.8" y="155.3">100</text>
<text x="951.32" y="155.3">120</text>
</g>
<g clip-path="url(#ch)" fill="none" stroke-width="2.2" stroke-linejoin="round">
<path d="M797.9 137 L788.8 111.8 L800.4 111.8 L817.7 122.2 L834.1 123.1 L844.5 113.7" stroke="#f01818"/>
<path d="M852.3 108 L863.3 98.3 L883.1 107.7 L907.4 104" stroke="#118a11"/>
<path d="M915.8 104.3 L935.7 89.2 L941.3 82.6 L945.1 82" stroke="#b030c0"/>
<path d="M953.6 81.3 L968 79.7 L983.8 88.9" stroke="#2828f0"/>
</g>
<g font-family="'DejaVu Sans','Liberation Sans',sans-serif" font-size="10.6" fill="#000" text-anchor="middle" stroke="#fff" stroke-width="2.4" paint-order="stroke">
<text x="788.6" y="115">1</text>
<text x="819.6" y="126.2">2</text>
<text x="848.3" y="113.8">3</text>
<text x="911.4" y="107.2">6</text>
<text x="949.2" y="84.6">9</text>
</g>
<circle cx="821.2" cy="101.4" r="7.4" fill="#fff" fill-opacity="0.6" stroke="#000" stroke-width="1.2"/>
<text x="821.2" y="104.2" font-family="'DejaVu Sans','Liberation Sans',sans-serif" font-size="7.6" text-anchor="middle" textLength="9.6" lengthAdjust="spacingAndGlyphs">LM</text>
<circle cx="833.1" cy="130.7" r="7.4" fill="#fff" fill-opacity="0.6" stroke="#000" stroke-width="1.2"/>
<text x="833.1" y="133.5" font-family="'DejaVu Sans','Liberation Sans',sans-serif" font-size="7.6" text-anchor="middle" textLength="9.6" lengthAdjust="spacingAndGlyphs">RM</text>
<rect x="785.8" y="29.3" width="200.2" height="170.6" fill="none" stroke="#000" stroke-width="1.2"/>
<text x="885.4" y="212.7" font-family="'DejaVu Sans','Liberation Sans',sans-serif" font-size="9.72" letter-spacing="0.23" text-anchor="middle">Hodograph (wind in kt, height in km)</text>
<g font-family="'DejaVu Sans Mono','Liberation Mono',monospace" font-size="12.6">
<text x="785.9" y="244.2" fill="#a02ca0" style="white-space:pre">SRH 0-1km:      203</text>
<text x="938.2" y="244.2" fill="#a02ca0" font-family="'DejaVu Sans','Liberation Sans',sans-serif" font-style="italic" font-size="13.3">m<tspan dy="-5" font-size="9.3" font-style="normal">2</tspan><tspan dy="5">s</tspan><tspan dy="-5" font-size="9.3" font-style="normal">−2</tspan></text>
<text x="785.9" y="259.9" fill="#a02ca0" style="white-space:pre">SRH 0-3km:      272</text>
<text x="938.2" y="259.9" fill="#a02ca0" font-family="'DejaVu Sans','Liberation Sans',sans-serif" font-style="italic" font-size="13.3">m<tspan dy="-5" font-size="9.3" font-style="normal">2</tspan><tspan dy="5">s</tspan><tspan dy="-5" font-size="9.3" font-style="normal">−2</tspan></text>
<text x="785.9" y="277.2" fill="#000" style="white-space:pre">SBCAPE:           0 J/kg</text>
<text x="785.9" y="293" fill="#000" style="white-space:pre">MLCAPE:           0 J/kg</text>
<text x="785.9" y="309" fill="#000" style="white-space:pre">MUCAPE:           0 J/kg</text>
<text x="785.9" y="324.8" fill="#000" style="white-space:pre">SBCIN:            0 J/kg</text>
<text x="785.9" y="340.9" fill="#000" style="white-space:pre">MLCIN:            0 J/kg</text>
<text x="785.9" y="356.3" fill="#000" style="white-space:pre">DCAPE:            0 J/kg</text>
<text x="785.9" y="372.2" fill="#a52a2a" style="white-space:pre">SHR 200-850mb:  160 kt</text>
<text x="785.9" y="388" fill="#2e8b57" style="white-space:pre">RH 300-850mb:    98 %</text>
<text x="785.9" y="404" fill="#000" style="white-space:pre">PWAT:          0.37 in</text>
</g>
<defs><clipPath id="ct"><rect x="800.4" y="438.9" width="185.6" height="150"/></clipPath></defs>
<path clip-path="url(#ct)" d="M844.2 572.8 L845.4 568.4 L851.7 563.1 L856.4 556.8 L864.3 548.3 L879.1 538.6 L891.6 528.5 L902.6 518.1 L912.1 508.1 L919.9 499.2 L933.1 488.6 L952.3 478.8 L964 468.7 L964.9 459.3 L969.9 448.9 L972.1 439.5 L972.4 438" fill="none" stroke="#2b95b6" stroke-width="2.4" stroke-linejoin="round"/>
<rect x="800.4" y="438.9" width="185.6" height="150" fill="none" stroke="#000" stroke-width="1.2"/>
<path d="M800.4 459 h4.6M800.4 498.9 h4.6M800.4 538.9 h4.6M802 588.9 v-4.6M841.6 588.9 v-4.6M879.9 588.9 v-4.6M918.6 588.9 v-4.6M956.9 588.9 v-4.6" stroke="#000" stroke-width="1.1" fill="none"/>
<g font-family="'DejaVu Sans','Liberation Sans',sans-serif" font-size="9.9" fill="#000">
<text x="809.2" y="462.7">400</text>
<text x="809.2" y="502.6">600</text>
<text x="809.2" y="542.6">800</text>
<text x="802" y="580.9" text-anchor="middle">240</text>
<text x="841.6" y="580.9" text-anchor="middle">260</text>
<text x="879.9" y="580.9" text-anchor="middle">280</text>
<text x="918.6" y="580.9" text-anchor="middle">300</text>
<text x="956.9" y="580.9" text-anchor="middle">320</text>
</g>
<text x="892.3" y="601.3" font-family="'DejaVu Sans','Liberation Sans',sans-serif" font-size="9.72" letter-spacing="0.22" text-anchor="middle">Equivalent Pot. Temperature (K)</text>
<text transform="translate(793 513.8) rotate(-90)" font-family="'DejaVu Sans','Liberation Sans',sans-serif" font-size="9.72" letter-spacing="0.2" text-anchor="middle">Pressure (hPa)</text>
<text x="886.5" y="17.2" font-family="'DejaVu Sans','Liberation Sans',sans-serif" font-weight="bold" font-size="13.8" fill="#808080" text-anchor="middle">TROPICALTIDBITS.COM</text>
</svg></body></html>
